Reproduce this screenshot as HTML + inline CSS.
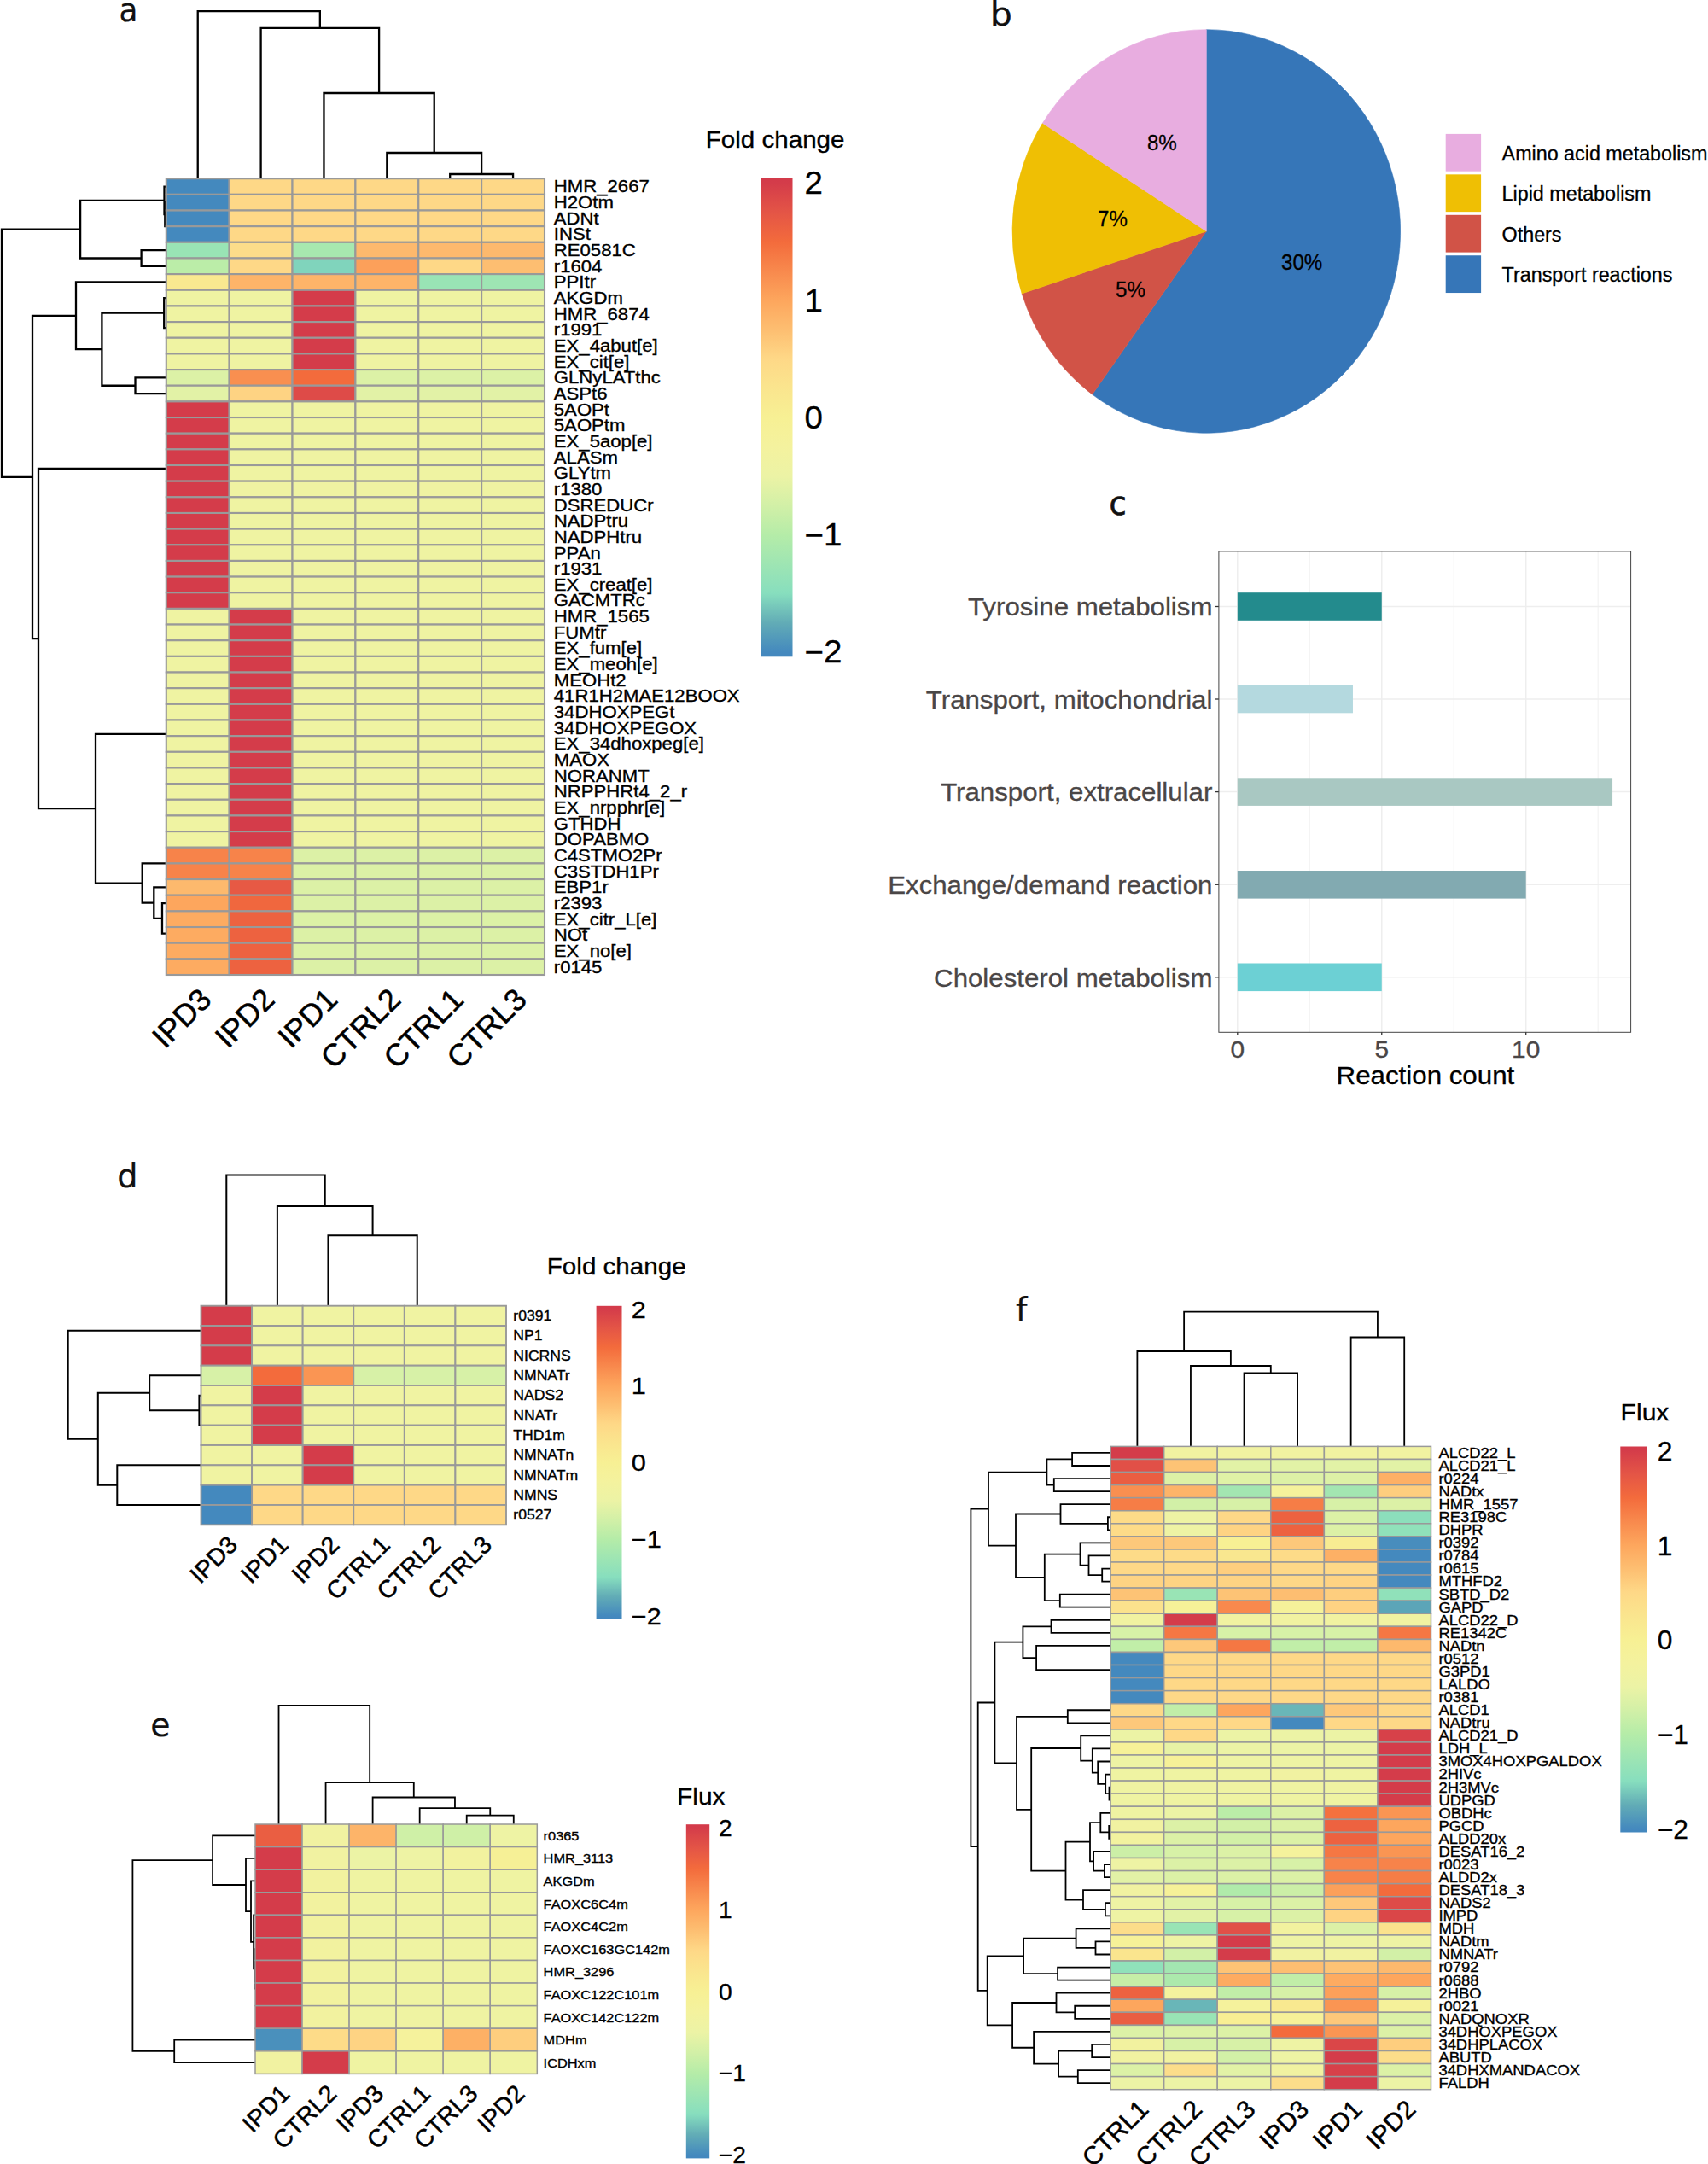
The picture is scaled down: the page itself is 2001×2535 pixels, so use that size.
<!DOCTYPE html>
<html><head><meta charset="utf-8"><title>Figure</title>
<style>html,body{margin:0;padding:0;background:#fff}svg{display:block}</style>
</head><body>
<svg width="2001" height="2535" viewBox="0 0 2001 2535" font-family="'Liberation Sans',Arial,Helvetica,sans-serif">
<rect width="2001" height="2535" fill="#fff"/>
<text transform="translate(139.43,24.70) scale(0.8968,0.9693)" font-family="'DejaVu Sans',Verdana,sans-serif" font-size="40" fill="#111" stroke="#111" stroke-width="0.20">a</text>
<path d="M527.20 209.20L527.20 204.00M601.07 209.20L601.07 204.00M527.20 204.00L601.07 204.00M453.33 209.20L453.33 179.00M564.13 204.00L564.13 179.00M453.33 179.00L564.13 179.00M379.47 209.20L379.47 109.00M508.73 179.00L508.73 109.00M379.47 109.00L508.73 109.00M305.60 209.20L305.60 32.80M444.10 109.00L444.10 32.80M305.60 32.80L444.10 32.80M231.73 209.20L231.73 13.20M374.85 32.80L374.85 13.20M231.73 13.20L374.85 13.20" stroke="#000" stroke-width="2.30" fill="none" stroke-linecap="square"/>
<path d="M194.80 237.18L193.30 237.18M195.80 265.17L193.30 265.17M193.30 237.18L193.30 265.17M194.80 218.53L192.50 218.53M193.30 251.18L192.50 251.18M192.50 218.53L192.50 251.18M194.80 293.15L165.60 293.15M194.80 311.81L165.60 311.81M165.60 293.15L165.60 311.81M192.50 234.85L94.10 234.85M165.60 302.48L94.10 302.48M94.10 234.85L94.10 302.48M194.80 349.12L192.20 349.12M195.80 384.10L192.20 384.10M192.20 349.12L192.20 384.10M194.80 442.40L158.50 442.40M194.80 461.06L158.50 461.06M158.50 442.40L158.50 461.06M192.20 366.61L119.40 366.61M158.50 451.73L119.40 451.73M119.40 366.61L119.40 451.73M194.80 330.46L89.00 330.46M119.40 409.17L89.00 409.17M89.00 330.46L89.00 409.17M190.00 1058.20L190.00 1093.70M190.00 1058.20L194.80 1058.20M190.00 1093.70L194.80 1093.70M194.80 1039.39L180.30 1039.39M190.00 1075.95L180.30 1075.95M180.30 1039.39L180.30 1075.95M195.80 1011.41L166.70 1011.41M180.30 1057.67L166.70 1057.67M166.70 1011.41L166.70 1057.67M194.80 859.80L112.00 859.80M166.70 1034.54L112.00 1034.54M112.00 859.80L112.00 1034.54M194.80 549.00L45.00 549.00M112.00 947.17L45.00 947.17M45.00 549.00L45.00 947.17M89.00 369.82L38.00 369.82M45.00 748.08L38.00 748.08M38.00 369.82L38.00 748.08M94.10 268.67L2.00 268.67M38.00 558.95L2.00 558.95M2.00 268.67L2.00 558.95" stroke="#000" stroke-width="2.30" fill="none" stroke-linecap="square"/>
<g stroke="#999999" stroke-width="2.10">
<rect x="194.80" y="209.20" width="73.87" height="18.66" fill="#4489be"/>
<rect x="268.67" y="209.20" width="73.87" height="18.66" fill="#fed887"/>
<rect x="342.53" y="209.20" width="73.87" height="18.66" fill="#fed887"/>
<rect x="416.40" y="209.20" width="73.87" height="18.66" fill="#fed887"/>
<rect x="490.27" y="209.20" width="73.87" height="18.66" fill="#fed887"/>
<rect x="564.13" y="209.20" width="73.87" height="18.66" fill="#fed887"/>
<rect x="194.80" y="227.86" width="73.87" height="18.66" fill="#4489be"/>
<rect x="268.67" y="227.86" width="73.87" height="18.66" fill="#fed887"/>
<rect x="342.53" y="227.86" width="73.87" height="18.66" fill="#fed887"/>
<rect x="416.40" y="227.86" width="73.87" height="18.66" fill="#fed887"/>
<rect x="490.27" y="227.86" width="73.87" height="18.66" fill="#fed887"/>
<rect x="564.13" y="227.86" width="73.87" height="18.66" fill="#fed887"/>
<rect x="194.80" y="246.51" width="73.87" height="18.66" fill="#4489be"/>
<rect x="268.67" y="246.51" width="73.87" height="18.66" fill="#fed887"/>
<rect x="342.53" y="246.51" width="73.87" height="18.66" fill="#fed887"/>
<rect x="416.40" y="246.51" width="73.87" height="18.66" fill="#fed887"/>
<rect x="490.27" y="246.51" width="73.87" height="18.66" fill="#fed887"/>
<rect x="564.13" y="246.51" width="73.87" height="18.66" fill="#fed887"/>
<rect x="194.80" y="265.17" width="73.87" height="18.66" fill="#4489be"/>
<rect x="268.67" y="265.17" width="73.87" height="18.66" fill="#fed887"/>
<rect x="342.53" y="265.17" width="73.87" height="18.66" fill="#fed887"/>
<rect x="416.40" y="265.17" width="73.87" height="18.66" fill="#fed887"/>
<rect x="490.27" y="265.17" width="73.87" height="18.66" fill="#fed887"/>
<rect x="564.13" y="265.17" width="73.87" height="18.66" fill="#fed887"/>
<rect x="194.80" y="283.82" width="73.87" height="18.66" fill="#99e4b5"/>
<rect x="268.67" y="283.82" width="73.87" height="18.66" fill="#fcdd8a"/>
<rect x="342.53" y="283.82" width="73.87" height="18.66" fill="#a7e8af"/>
<rect x="416.40" y="283.82" width="73.87" height="18.66" fill="#fdb96d"/>
<rect x="490.27" y="283.82" width="73.87" height="18.66" fill="#fdb96d"/>
<rect x="564.13" y="283.82" width="73.87" height="18.66" fill="#fdb96d"/>
<rect x="194.80" y="302.48" width="73.87" height="18.66" fill="#bbeda8"/>
<rect x="268.67" y="302.48" width="73.87" height="18.66" fill="#fed887"/>
<rect x="342.53" y="302.48" width="73.87" height="18.66" fill="#80d4bc"/>
<rect x="416.40" y="302.48" width="73.87" height="18.66" fill="#fca05a"/>
<rect x="490.27" y="302.48" width="73.87" height="18.66" fill="#fed887"/>
<rect x="564.13" y="302.48" width="73.87" height="18.66" fill="#fdbe71"/>
<rect x="194.80" y="321.14" width="73.87" height="18.66" fill="#f9e990"/>
<rect x="268.67" y="321.14" width="73.87" height="18.66" fill="#fdb469"/>
<rect x="342.53" y="321.14" width="73.87" height="18.66" fill="#fdb469"/>
<rect x="416.40" y="321.14" width="73.87" height="18.66" fill="#fdb469"/>
<rect x="490.27" y="321.14" width="73.87" height="18.66" fill="#99e4b5"/>
<rect x="564.13" y="321.14" width="73.87" height="18.66" fill="#9ee5b3"/>
<rect x="194.80" y="339.79" width="73.87" height="18.66" fill="#eff3a2"/>
<rect x="268.67" y="339.79" width="73.87" height="18.66" fill="#eff3a2"/>
<rect x="342.53" y="339.79" width="73.87" height="18.66" fill="#d43c4a"/>
<rect x="416.40" y="339.79" width="73.87" height="18.66" fill="#eff3a2"/>
<rect x="490.27" y="339.79" width="73.87" height="18.66" fill="#eff3a2"/>
<rect x="564.13" y="339.79" width="73.87" height="18.66" fill="#eff3a2"/>
<rect x="194.80" y="358.45" width="73.87" height="18.66" fill="#eff3a2"/>
<rect x="268.67" y="358.45" width="73.87" height="18.66" fill="#eff3a2"/>
<rect x="342.53" y="358.45" width="73.87" height="18.66" fill="#d43c4a"/>
<rect x="416.40" y="358.45" width="73.87" height="18.66" fill="#eff3a2"/>
<rect x="490.27" y="358.45" width="73.87" height="18.66" fill="#eff3a2"/>
<rect x="564.13" y="358.45" width="73.87" height="18.66" fill="#eff3a2"/>
<rect x="194.80" y="377.10" width="73.87" height="18.66" fill="#eff3a2"/>
<rect x="268.67" y="377.10" width="73.87" height="18.66" fill="#eff3a2"/>
<rect x="342.53" y="377.10" width="73.87" height="18.66" fill="#d43c4a"/>
<rect x="416.40" y="377.10" width="73.87" height="18.66" fill="#eff3a2"/>
<rect x="490.27" y="377.10" width="73.87" height="18.66" fill="#eff3a2"/>
<rect x="564.13" y="377.10" width="73.87" height="18.66" fill="#eff3a2"/>
<rect x="194.80" y="395.76" width="73.87" height="18.66" fill="#eff3a2"/>
<rect x="268.67" y="395.76" width="73.87" height="18.66" fill="#eff3a2"/>
<rect x="342.53" y="395.76" width="73.87" height="18.66" fill="#d43c4a"/>
<rect x="416.40" y="395.76" width="73.87" height="18.66" fill="#eff3a2"/>
<rect x="490.27" y="395.76" width="73.87" height="18.66" fill="#eff3a2"/>
<rect x="564.13" y="395.76" width="73.87" height="18.66" fill="#eff3a2"/>
<rect x="194.80" y="414.42" width="73.87" height="18.66" fill="#eff3a2"/>
<rect x="268.67" y="414.42" width="73.87" height="18.66" fill="#eff3a2"/>
<rect x="342.53" y="414.42" width="73.87" height="18.66" fill="#d43c4a"/>
<rect x="416.40" y="414.42" width="73.87" height="18.66" fill="#eff3a2"/>
<rect x="490.27" y="414.42" width="73.87" height="18.66" fill="#eff3a2"/>
<rect x="564.13" y="414.42" width="73.87" height="18.66" fill="#eff3a2"/>
<rect x="194.80" y="433.07" width="73.87" height="18.66" fill="#dcf1a6"/>
<rect x="268.67" y="433.07" width="73.87" height="18.66" fill="#f98f50"/>
<rect x="342.53" y="433.07" width="73.87" height="18.66" fill="#f36b3c"/>
<rect x="416.40" y="433.07" width="73.87" height="18.66" fill="#dcf1a6"/>
<rect x="490.27" y="433.07" width="73.87" height="18.66" fill="#dcf1a6"/>
<rect x="564.13" y="433.07" width="73.87" height="18.66" fill="#dcf1a6"/>
<rect x="194.80" y="451.73" width="73.87" height="18.66" fill="#e2f2a6"/>
<rect x="268.67" y="451.73" width="73.87" height="18.66" fill="#fed383"/>
<rect x="342.53" y="451.73" width="73.87" height="18.66" fill="#de4b48"/>
<rect x="416.40" y="451.73" width="73.87" height="18.66" fill="#e2f2a6"/>
<rect x="490.27" y="451.73" width="73.87" height="18.66" fill="#e2f2a6"/>
<rect x="564.13" y="451.73" width="73.87" height="18.66" fill="#e2f2a6"/>
<rect x="194.80" y="470.38" width="73.87" height="18.66" fill="#d43c4a"/>
<rect x="268.67" y="470.38" width="73.87" height="18.66" fill="#eff3a2"/>
<rect x="342.53" y="470.38" width="73.87" height="18.66" fill="#eff3a2"/>
<rect x="416.40" y="470.38" width="73.87" height="18.66" fill="#eff3a2"/>
<rect x="490.27" y="470.38" width="73.87" height="18.66" fill="#eff3a2"/>
<rect x="564.13" y="470.38" width="73.87" height="18.66" fill="#eff3a2"/>
<rect x="194.80" y="489.04" width="73.87" height="18.66" fill="#d43c4a"/>
<rect x="268.67" y="489.04" width="73.87" height="18.66" fill="#eff3a2"/>
<rect x="342.53" y="489.04" width="73.87" height="18.66" fill="#eff3a2"/>
<rect x="416.40" y="489.04" width="73.87" height="18.66" fill="#eff3a2"/>
<rect x="490.27" y="489.04" width="73.87" height="18.66" fill="#eff3a2"/>
<rect x="564.13" y="489.04" width="73.87" height="18.66" fill="#eff3a2"/>
<rect x="194.80" y="507.70" width="73.87" height="18.66" fill="#d43c4a"/>
<rect x="268.67" y="507.70" width="73.87" height="18.66" fill="#eff3a2"/>
<rect x="342.53" y="507.70" width="73.87" height="18.66" fill="#eff3a2"/>
<rect x="416.40" y="507.70" width="73.87" height="18.66" fill="#eff3a2"/>
<rect x="490.27" y="507.70" width="73.87" height="18.66" fill="#eff3a2"/>
<rect x="564.13" y="507.70" width="73.87" height="18.66" fill="#eff3a2"/>
<rect x="194.80" y="526.35" width="73.87" height="18.66" fill="#d43c4a"/>
<rect x="268.67" y="526.35" width="73.87" height="18.66" fill="#eff3a2"/>
<rect x="342.53" y="526.35" width="73.87" height="18.66" fill="#eff3a2"/>
<rect x="416.40" y="526.35" width="73.87" height="18.66" fill="#eff3a2"/>
<rect x="490.27" y="526.35" width="73.87" height="18.66" fill="#eff3a2"/>
<rect x="564.13" y="526.35" width="73.87" height="18.66" fill="#eff3a2"/>
<rect x="194.80" y="545.01" width="73.87" height="18.66" fill="#d43c4a"/>
<rect x="268.67" y="545.01" width="73.87" height="18.66" fill="#eff3a2"/>
<rect x="342.53" y="545.01" width="73.87" height="18.66" fill="#eff3a2"/>
<rect x="416.40" y="545.01" width="73.87" height="18.66" fill="#eff3a2"/>
<rect x="490.27" y="545.01" width="73.87" height="18.66" fill="#eff3a2"/>
<rect x="564.13" y="545.01" width="73.87" height="18.66" fill="#eff3a2"/>
<rect x="194.80" y="563.66" width="73.87" height="18.66" fill="#d43c4a"/>
<rect x="268.67" y="563.66" width="73.87" height="18.66" fill="#eff3a2"/>
<rect x="342.53" y="563.66" width="73.87" height="18.66" fill="#eff3a2"/>
<rect x="416.40" y="563.66" width="73.87" height="18.66" fill="#eff3a2"/>
<rect x="490.27" y="563.66" width="73.87" height="18.66" fill="#eff3a2"/>
<rect x="564.13" y="563.66" width="73.87" height="18.66" fill="#eff3a2"/>
<rect x="194.80" y="582.32" width="73.87" height="18.66" fill="#d43c4a"/>
<rect x="268.67" y="582.32" width="73.87" height="18.66" fill="#eff3a2"/>
<rect x="342.53" y="582.32" width="73.87" height="18.66" fill="#eff3a2"/>
<rect x="416.40" y="582.32" width="73.87" height="18.66" fill="#eff3a2"/>
<rect x="490.27" y="582.32" width="73.87" height="18.66" fill="#eff3a2"/>
<rect x="564.13" y="582.32" width="73.87" height="18.66" fill="#eff3a2"/>
<rect x="194.80" y="600.98" width="73.87" height="18.66" fill="#d43c4a"/>
<rect x="268.67" y="600.98" width="73.87" height="18.66" fill="#eff3a2"/>
<rect x="342.53" y="600.98" width="73.87" height="18.66" fill="#eff3a2"/>
<rect x="416.40" y="600.98" width="73.87" height="18.66" fill="#eff3a2"/>
<rect x="490.27" y="600.98" width="73.87" height="18.66" fill="#eff3a2"/>
<rect x="564.13" y="600.98" width="73.87" height="18.66" fill="#eff3a2"/>
<rect x="194.80" y="619.63" width="73.87" height="18.66" fill="#d43c4a"/>
<rect x="268.67" y="619.63" width="73.87" height="18.66" fill="#eff3a2"/>
<rect x="342.53" y="619.63" width="73.87" height="18.66" fill="#eff3a2"/>
<rect x="416.40" y="619.63" width="73.87" height="18.66" fill="#eff3a2"/>
<rect x="490.27" y="619.63" width="73.87" height="18.66" fill="#eff3a2"/>
<rect x="564.13" y="619.63" width="73.87" height="18.66" fill="#eff3a2"/>
<rect x="194.80" y="638.29" width="73.87" height="18.66" fill="#d43c4a"/>
<rect x="268.67" y="638.29" width="73.87" height="18.66" fill="#eff3a2"/>
<rect x="342.53" y="638.29" width="73.87" height="18.66" fill="#eff3a2"/>
<rect x="416.40" y="638.29" width="73.87" height="18.66" fill="#eff3a2"/>
<rect x="490.27" y="638.29" width="73.87" height="18.66" fill="#eff3a2"/>
<rect x="564.13" y="638.29" width="73.87" height="18.66" fill="#eff3a2"/>
<rect x="194.80" y="656.94" width="73.87" height="18.66" fill="#d43c4a"/>
<rect x="268.67" y="656.94" width="73.87" height="18.66" fill="#eff3a2"/>
<rect x="342.53" y="656.94" width="73.87" height="18.66" fill="#eff3a2"/>
<rect x="416.40" y="656.94" width="73.87" height="18.66" fill="#eff3a2"/>
<rect x="490.27" y="656.94" width="73.87" height="18.66" fill="#eff3a2"/>
<rect x="564.13" y="656.94" width="73.87" height="18.66" fill="#eff3a2"/>
<rect x="194.80" y="675.60" width="73.87" height="18.66" fill="#d43c4a"/>
<rect x="268.67" y="675.60" width="73.87" height="18.66" fill="#eff3a2"/>
<rect x="342.53" y="675.60" width="73.87" height="18.66" fill="#eff3a2"/>
<rect x="416.40" y="675.60" width="73.87" height="18.66" fill="#eff3a2"/>
<rect x="490.27" y="675.60" width="73.87" height="18.66" fill="#eff3a2"/>
<rect x="564.13" y="675.60" width="73.87" height="18.66" fill="#eff3a2"/>
<rect x="194.80" y="694.26" width="73.87" height="18.66" fill="#d43c4a"/>
<rect x="268.67" y="694.26" width="73.87" height="18.66" fill="#eff3a2"/>
<rect x="342.53" y="694.26" width="73.87" height="18.66" fill="#eff3a2"/>
<rect x="416.40" y="694.26" width="73.87" height="18.66" fill="#eff3a2"/>
<rect x="490.27" y="694.26" width="73.87" height="18.66" fill="#eff3a2"/>
<rect x="564.13" y="694.26" width="73.87" height="18.66" fill="#eff3a2"/>
<rect x="194.80" y="712.91" width="73.87" height="18.66" fill="#eff3a2"/>
<rect x="268.67" y="712.91" width="73.87" height="18.66" fill="#d43c4a"/>
<rect x="342.53" y="712.91" width="73.87" height="18.66" fill="#eff3a2"/>
<rect x="416.40" y="712.91" width="73.87" height="18.66" fill="#eff3a2"/>
<rect x="490.27" y="712.91" width="73.87" height="18.66" fill="#eff3a2"/>
<rect x="564.13" y="712.91" width="73.87" height="18.66" fill="#eff3a2"/>
<rect x="194.80" y="731.57" width="73.87" height="18.66" fill="#eff3a2"/>
<rect x="268.67" y="731.57" width="73.87" height="18.66" fill="#d43c4a"/>
<rect x="342.53" y="731.57" width="73.87" height="18.66" fill="#eff3a2"/>
<rect x="416.40" y="731.57" width="73.87" height="18.66" fill="#eff3a2"/>
<rect x="490.27" y="731.57" width="73.87" height="18.66" fill="#eff3a2"/>
<rect x="564.13" y="731.57" width="73.87" height="18.66" fill="#eff3a2"/>
<rect x="194.80" y="750.22" width="73.87" height="18.66" fill="#eff3a2"/>
<rect x="268.67" y="750.22" width="73.87" height="18.66" fill="#d43c4a"/>
<rect x="342.53" y="750.22" width="73.87" height="18.66" fill="#eff3a2"/>
<rect x="416.40" y="750.22" width="73.87" height="18.66" fill="#eff3a2"/>
<rect x="490.27" y="750.22" width="73.87" height="18.66" fill="#eff3a2"/>
<rect x="564.13" y="750.22" width="73.87" height="18.66" fill="#eff3a2"/>
<rect x="194.80" y="768.88" width="73.87" height="18.66" fill="#eff3a2"/>
<rect x="268.67" y="768.88" width="73.87" height="18.66" fill="#d43c4a"/>
<rect x="342.53" y="768.88" width="73.87" height="18.66" fill="#eff3a2"/>
<rect x="416.40" y="768.88" width="73.87" height="18.66" fill="#eff3a2"/>
<rect x="490.27" y="768.88" width="73.87" height="18.66" fill="#eff3a2"/>
<rect x="564.13" y="768.88" width="73.87" height="18.66" fill="#eff3a2"/>
<rect x="194.80" y="787.54" width="73.87" height="18.66" fill="#eff3a2"/>
<rect x="268.67" y="787.54" width="73.87" height="18.66" fill="#d43c4a"/>
<rect x="342.53" y="787.54" width="73.87" height="18.66" fill="#eff3a2"/>
<rect x="416.40" y="787.54" width="73.87" height="18.66" fill="#eff3a2"/>
<rect x="490.27" y="787.54" width="73.87" height="18.66" fill="#eff3a2"/>
<rect x="564.13" y="787.54" width="73.87" height="18.66" fill="#eff3a2"/>
<rect x="194.80" y="806.19" width="73.87" height="18.66" fill="#eff3a2"/>
<rect x="268.67" y="806.19" width="73.87" height="18.66" fill="#d43c4a"/>
<rect x="342.53" y="806.19" width="73.87" height="18.66" fill="#eff3a2"/>
<rect x="416.40" y="806.19" width="73.87" height="18.66" fill="#eff3a2"/>
<rect x="490.27" y="806.19" width="73.87" height="18.66" fill="#eff3a2"/>
<rect x="564.13" y="806.19" width="73.87" height="18.66" fill="#eff3a2"/>
<rect x="194.80" y="824.85" width="73.87" height="18.66" fill="#eff3a2"/>
<rect x="268.67" y="824.85" width="73.87" height="18.66" fill="#d43c4a"/>
<rect x="342.53" y="824.85" width="73.87" height="18.66" fill="#eff3a2"/>
<rect x="416.40" y="824.85" width="73.87" height="18.66" fill="#eff3a2"/>
<rect x="490.27" y="824.85" width="73.87" height="18.66" fill="#eff3a2"/>
<rect x="564.13" y="824.85" width="73.87" height="18.66" fill="#eff3a2"/>
<rect x="194.80" y="843.50" width="73.87" height="18.66" fill="#eff3a2"/>
<rect x="268.67" y="843.50" width="73.87" height="18.66" fill="#d43c4a"/>
<rect x="342.53" y="843.50" width="73.87" height="18.66" fill="#eff3a2"/>
<rect x="416.40" y="843.50" width="73.87" height="18.66" fill="#eff3a2"/>
<rect x="490.27" y="843.50" width="73.87" height="18.66" fill="#eff3a2"/>
<rect x="564.13" y="843.50" width="73.87" height="18.66" fill="#eff3a2"/>
<rect x="194.80" y="862.16" width="73.87" height="18.66" fill="#eff3a2"/>
<rect x="268.67" y="862.16" width="73.87" height="18.66" fill="#d43c4a"/>
<rect x="342.53" y="862.16" width="73.87" height="18.66" fill="#eff3a2"/>
<rect x="416.40" y="862.16" width="73.87" height="18.66" fill="#eff3a2"/>
<rect x="490.27" y="862.16" width="73.87" height="18.66" fill="#eff3a2"/>
<rect x="564.13" y="862.16" width="73.87" height="18.66" fill="#eff3a2"/>
<rect x="194.80" y="880.82" width="73.87" height="18.66" fill="#eff3a2"/>
<rect x="268.67" y="880.82" width="73.87" height="18.66" fill="#d43c4a"/>
<rect x="342.53" y="880.82" width="73.87" height="18.66" fill="#eff3a2"/>
<rect x="416.40" y="880.82" width="73.87" height="18.66" fill="#eff3a2"/>
<rect x="490.27" y="880.82" width="73.87" height="18.66" fill="#eff3a2"/>
<rect x="564.13" y="880.82" width="73.87" height="18.66" fill="#eff3a2"/>
<rect x="194.80" y="899.47" width="73.87" height="18.66" fill="#eff3a2"/>
<rect x="268.67" y="899.47" width="73.87" height="18.66" fill="#d43c4a"/>
<rect x="342.53" y="899.47" width="73.87" height="18.66" fill="#eff3a2"/>
<rect x="416.40" y="899.47" width="73.87" height="18.66" fill="#eff3a2"/>
<rect x="490.27" y="899.47" width="73.87" height="18.66" fill="#eff3a2"/>
<rect x="564.13" y="899.47" width="73.87" height="18.66" fill="#eff3a2"/>
<rect x="194.80" y="918.13" width="73.87" height="18.66" fill="#eff3a2"/>
<rect x="268.67" y="918.13" width="73.87" height="18.66" fill="#d43c4a"/>
<rect x="342.53" y="918.13" width="73.87" height="18.66" fill="#eff3a2"/>
<rect x="416.40" y="918.13" width="73.87" height="18.66" fill="#eff3a2"/>
<rect x="490.27" y="918.13" width="73.87" height="18.66" fill="#eff3a2"/>
<rect x="564.13" y="918.13" width="73.87" height="18.66" fill="#eff3a2"/>
<rect x="194.80" y="936.78" width="73.87" height="18.66" fill="#eff3a2"/>
<rect x="268.67" y="936.78" width="73.87" height="18.66" fill="#d43c4a"/>
<rect x="342.53" y="936.78" width="73.87" height="18.66" fill="#eff3a2"/>
<rect x="416.40" y="936.78" width="73.87" height="18.66" fill="#eff3a2"/>
<rect x="490.27" y="936.78" width="73.87" height="18.66" fill="#eff3a2"/>
<rect x="564.13" y="936.78" width="73.87" height="18.66" fill="#eff3a2"/>
<rect x="194.80" y="955.44" width="73.87" height="18.66" fill="#eff3a2"/>
<rect x="268.67" y="955.44" width="73.87" height="18.66" fill="#d43c4a"/>
<rect x="342.53" y="955.44" width="73.87" height="18.66" fill="#eff3a2"/>
<rect x="416.40" y="955.44" width="73.87" height="18.66" fill="#eff3a2"/>
<rect x="490.27" y="955.44" width="73.87" height="18.66" fill="#eff3a2"/>
<rect x="564.13" y="955.44" width="73.87" height="18.66" fill="#eff3a2"/>
<rect x="194.80" y="974.10" width="73.87" height="18.66" fill="#eff3a2"/>
<rect x="268.67" y="974.10" width="73.87" height="18.66" fill="#d43c4a"/>
<rect x="342.53" y="974.10" width="73.87" height="18.66" fill="#eff3a2"/>
<rect x="416.40" y="974.10" width="73.87" height="18.66" fill="#eff3a2"/>
<rect x="490.27" y="974.10" width="73.87" height="18.66" fill="#eff3a2"/>
<rect x="564.13" y="974.10" width="73.87" height="18.66" fill="#eff3a2"/>
<rect x="194.80" y="992.75" width="73.87" height="18.66" fill="#f7834a"/>
<rect x="268.67" y="992.75" width="73.87" height="18.66" fill="#f7834a"/>
<rect x="342.53" y="992.75" width="73.87" height="18.66" fill="#dcf1a6"/>
<rect x="416.40" y="992.75" width="73.87" height="18.66" fill="#dcf1a6"/>
<rect x="490.27" y="992.75" width="73.87" height="18.66" fill="#dcf1a6"/>
<rect x="564.13" y="992.75" width="73.87" height="18.66" fill="#dcf1a6"/>
<rect x="194.80" y="1011.41" width="73.87" height="18.66" fill="#f7834a"/>
<rect x="268.67" y="1011.41" width="73.87" height="18.66" fill="#f7834a"/>
<rect x="342.53" y="1011.41" width="73.87" height="18.66" fill="#dcf1a6"/>
<rect x="416.40" y="1011.41" width="73.87" height="18.66" fill="#dcf1a6"/>
<rect x="490.27" y="1011.41" width="73.87" height="18.66" fill="#dcf1a6"/>
<rect x="564.13" y="1011.41" width="73.87" height="18.66" fill="#dcf1a6"/>
<rect x="194.80" y="1030.06" width="73.87" height="18.66" fill="#fdb96d"/>
<rect x="268.67" y="1030.06" width="73.87" height="18.66" fill="#e75944"/>
<rect x="342.53" y="1030.06" width="73.87" height="18.66" fill="#dcf1a6"/>
<rect x="416.40" y="1030.06" width="73.87" height="18.66" fill="#dcf1a6"/>
<rect x="490.27" y="1030.06" width="73.87" height="18.66" fill="#dcf1a6"/>
<rect x="564.13" y="1030.06" width="73.87" height="18.66" fill="#dcf1a6"/>
<rect x="194.80" y="1048.72" width="73.87" height="18.66" fill="#fda65d"/>
<rect x="268.67" y="1048.72" width="73.87" height="18.66" fill="#f0673e"/>
<rect x="342.53" y="1048.72" width="73.87" height="18.66" fill="#dcf1a6"/>
<rect x="416.40" y="1048.72" width="73.87" height="18.66" fill="#dcf1a6"/>
<rect x="490.27" y="1048.72" width="73.87" height="18.66" fill="#dcf1a6"/>
<rect x="564.13" y="1048.72" width="73.87" height="18.66" fill="#dcf1a6"/>
<rect x="194.80" y="1067.38" width="73.87" height="18.66" fill="#fdab61"/>
<rect x="268.67" y="1067.38" width="73.87" height="18.66" fill="#ed6240"/>
<rect x="342.53" y="1067.38" width="73.87" height="18.66" fill="#dcf1a6"/>
<rect x="416.40" y="1067.38" width="73.87" height="18.66" fill="#dcf1a6"/>
<rect x="490.27" y="1067.38" width="73.87" height="18.66" fill="#dcf1a6"/>
<rect x="564.13" y="1067.38" width="73.87" height="18.66" fill="#dcf1a6"/>
<rect x="194.80" y="1086.03" width="73.87" height="18.66" fill="#fdab61"/>
<rect x="268.67" y="1086.03" width="73.87" height="18.66" fill="#ed6240"/>
<rect x="342.53" y="1086.03" width="73.87" height="18.66" fill="#dcf1a6"/>
<rect x="416.40" y="1086.03" width="73.87" height="18.66" fill="#dcf1a6"/>
<rect x="490.27" y="1086.03" width="73.87" height="18.66" fill="#dcf1a6"/>
<rect x="564.13" y="1086.03" width="73.87" height="18.66" fill="#dcf1a6"/>
<rect x="194.80" y="1104.69" width="73.87" height="18.66" fill="#fdab61"/>
<rect x="268.67" y="1104.69" width="73.87" height="18.66" fill="#ed6240"/>
<rect x="342.53" y="1104.69" width="73.87" height="18.66" fill="#dcf1a6"/>
<rect x="416.40" y="1104.69" width="73.87" height="18.66" fill="#dcf1a6"/>
<rect x="490.27" y="1104.69" width="73.87" height="18.66" fill="#dcf1a6"/>
<rect x="564.13" y="1104.69" width="73.87" height="18.66" fill="#dcf1a6"/>
<rect x="194.80" y="1123.34" width="73.87" height="18.66" fill="#fdab61"/>
<rect x="268.67" y="1123.34" width="73.87" height="18.66" fill="#ed6240"/>
<rect x="342.53" y="1123.34" width="73.87" height="18.66" fill="#dcf1a6"/>
<rect x="416.40" y="1123.34" width="73.87" height="18.66" fill="#dcf1a6"/>
<rect x="490.27" y="1123.34" width="73.87" height="18.66" fill="#dcf1a6"/>
<rect x="564.13" y="1123.34" width="73.87" height="18.66" fill="#dcf1a6"/>
</g>
<text transform="translate(648.80,225.43) scale(1.1130,1)" font-size="19.90" text-anchor="start" fill="#000" stroke="#000" stroke-width="0.35">HMR_2667</text>
<text transform="translate(648.80,244.08) scale(1.1130,1)" font-size="19.90" text-anchor="start" fill="#000" stroke="#000" stroke-width="0.35">H2Otm</text>
<text transform="translate(648.80,262.74) scale(1.1130,1)" font-size="19.90" text-anchor="start" fill="#000" stroke="#000" stroke-width="0.35">ADNt</text>
<text transform="translate(648.80,281.40) scale(1.1130,1)" font-size="19.90" text-anchor="start" fill="#000" stroke="#000" stroke-width="0.35">INSt</text>
<text transform="translate(648.80,300.05) scale(1.1130,1)" font-size="19.90" text-anchor="start" fill="#000" stroke="#000" stroke-width="0.35">RE0581C</text>
<text transform="translate(648.80,318.71) scale(1.1130,1)" font-size="19.90" text-anchor="start" fill="#000" stroke="#000" stroke-width="0.35">r1604</text>
<text transform="translate(648.80,337.36) scale(1.1130,1)" font-size="19.90" text-anchor="start" fill="#000" stroke="#000" stroke-width="0.35">PPItr</text>
<text transform="translate(648.80,356.02) scale(1.1130,1)" font-size="19.90" text-anchor="start" fill="#000" stroke="#000" stroke-width="0.35">AKGDm</text>
<text transform="translate(648.80,374.68) scale(1.1130,1)" font-size="19.90" text-anchor="start" fill="#000" stroke="#000" stroke-width="0.35">HMR_6874</text>
<text transform="translate(648.80,393.33) scale(1.1130,1)" font-size="19.90" text-anchor="start" fill="#000" stroke="#000" stroke-width="0.35">r1991</text>
<text transform="translate(648.80,411.99) scale(1.1130,1)" font-size="19.90" text-anchor="start" fill="#000" stroke="#000" stroke-width="0.35">EX_4abut[e]</text>
<text transform="translate(648.80,430.64) scale(1.1130,1)" font-size="19.90" text-anchor="start" fill="#000" stroke="#000" stroke-width="0.35">EX_cit[e]</text>
<text transform="translate(648.80,449.30) scale(1.1130,1)" font-size="19.90" text-anchor="start" fill="#000" stroke="#000" stroke-width="0.35">GLNyLATthc</text>
<text transform="translate(648.80,467.96) scale(1.1130,1)" font-size="19.90" text-anchor="start" fill="#000" stroke="#000" stroke-width="0.35">ASPt6</text>
<text transform="translate(648.80,486.61) scale(1.1130,1)" font-size="19.90" text-anchor="start" fill="#000" stroke="#000" stroke-width="0.35">5AOPt</text>
<text transform="translate(648.80,505.27) scale(1.1130,1)" font-size="19.90" text-anchor="start" fill="#000" stroke="#000" stroke-width="0.35">5AOPtm</text>
<text transform="translate(648.80,523.92) scale(1.1130,1)" font-size="19.90" text-anchor="start" fill="#000" stroke="#000" stroke-width="0.35">EX_5aop[e]</text>
<text transform="translate(648.80,542.58) scale(1.1130,1)" font-size="19.90" text-anchor="start" fill="#000" stroke="#000" stroke-width="0.35">ALASm</text>
<text transform="translate(648.80,561.24) scale(1.1130,1)" font-size="19.90" text-anchor="start" fill="#000" stroke="#000" stroke-width="0.35">GLYtm</text>
<text transform="translate(648.80,579.89) scale(1.1130,1)" font-size="19.90" text-anchor="start" fill="#000" stroke="#000" stroke-width="0.35">r1380</text>
<text transform="translate(648.80,598.55) scale(1.1130,1)" font-size="19.90" text-anchor="start" fill="#000" stroke="#000" stroke-width="0.35">DSREDUCr</text>
<text transform="translate(648.80,617.20) scale(1.1130,1)" font-size="19.90" text-anchor="start" fill="#000" stroke="#000" stroke-width="0.35">NADPtru</text>
<text transform="translate(648.80,635.86) scale(1.1130,1)" font-size="19.90" text-anchor="start" fill="#000" stroke="#000" stroke-width="0.35">NADPHtru</text>
<text transform="translate(648.80,654.52) scale(1.1130,1)" font-size="19.90" text-anchor="start" fill="#000" stroke="#000" stroke-width="0.35">PPAn</text>
<text transform="translate(648.80,673.17) scale(1.1130,1)" font-size="19.90" text-anchor="start" fill="#000" stroke="#000" stroke-width="0.35">r1931</text>
<text transform="translate(648.80,691.83) scale(1.1130,1)" font-size="19.90" text-anchor="start" fill="#000" stroke="#000" stroke-width="0.35">EX_creat[e]</text>
<text transform="translate(648.80,710.48) scale(1.1130,1)" font-size="19.90" text-anchor="start" fill="#000" stroke="#000" stroke-width="0.35">GACMTRc</text>
<text transform="translate(648.80,729.14) scale(1.1130,1)" font-size="19.90" text-anchor="start" fill="#000" stroke="#000" stroke-width="0.35">HMR_1565</text>
<text transform="translate(648.80,747.80) scale(1.1130,1)" font-size="19.90" text-anchor="start" fill="#000" stroke="#000" stroke-width="0.35">FUMtr</text>
<text transform="translate(648.80,766.45) scale(1.1130,1)" font-size="19.90" text-anchor="start" fill="#000" stroke="#000" stroke-width="0.35">EX_fum[e]</text>
<text transform="translate(648.80,785.11) scale(1.1130,1)" font-size="19.90" text-anchor="start" fill="#000" stroke="#000" stroke-width="0.35">EX_meoh[e]</text>
<text transform="translate(648.80,803.76) scale(1.1130,1)" font-size="19.90" text-anchor="start" fill="#000" stroke="#000" stroke-width="0.35">MEOHt2</text>
<text transform="translate(648.80,822.42) scale(1.1130,1)" font-size="19.90" text-anchor="start" fill="#000" stroke="#000" stroke-width="0.35">41R1H2MAE12BOOX</text>
<text transform="translate(648.80,841.08) scale(1.1130,1)" font-size="19.90" text-anchor="start" fill="#000" stroke="#000" stroke-width="0.35">34DHOXPEGt</text>
<text transform="translate(648.80,859.73) scale(1.1130,1)" font-size="19.90" text-anchor="start" fill="#000" stroke="#000" stroke-width="0.35">34DHOXPEGOX</text>
<text transform="translate(648.80,878.39) scale(1.1130,1)" font-size="19.90" text-anchor="start" fill="#000" stroke="#000" stroke-width="0.35">EX_34dhoxpeg[e]</text>
<text transform="translate(648.80,897.04) scale(1.1130,1)" font-size="19.90" text-anchor="start" fill="#000" stroke="#000" stroke-width="0.35">MAOX</text>
<text transform="translate(648.80,915.70) scale(1.1130,1)" font-size="19.90" text-anchor="start" fill="#000" stroke="#000" stroke-width="0.35">NORANMT</text>
<text transform="translate(648.80,934.36) scale(1.1130,1)" font-size="19.90" text-anchor="start" fill="#000" stroke="#000" stroke-width="0.35">NRPPHRt4_2_r</text>
<text transform="translate(648.80,953.01) scale(1.1130,1)" font-size="19.90" text-anchor="start" fill="#000" stroke="#000" stroke-width="0.35">EX_nrpphr[e]</text>
<text transform="translate(648.80,971.67) scale(1.1130,1)" font-size="19.90" text-anchor="start" fill="#000" stroke="#000" stroke-width="0.35">GTHDH</text>
<text transform="translate(648.80,990.32) scale(1.1130,1)" font-size="19.90" text-anchor="start" fill="#000" stroke="#000" stroke-width="0.35">DOPABMO</text>
<text transform="translate(648.80,1008.98) scale(1.1130,1)" font-size="19.90" text-anchor="start" fill="#000" stroke="#000" stroke-width="0.35">C4STMO2Pr</text>
<text transform="translate(648.80,1027.64) scale(1.1130,1)" font-size="19.90" text-anchor="start" fill="#000" stroke="#000" stroke-width="0.35">C3STDH1Pr</text>
<text transform="translate(648.80,1046.29) scale(1.1130,1)" font-size="19.90" text-anchor="start" fill="#000" stroke="#000" stroke-width="0.35">EBP1r</text>
<text transform="translate(648.80,1064.95) scale(1.1130,1)" font-size="19.90" text-anchor="start" fill="#000" stroke="#000" stroke-width="0.35">r2393</text>
<text transform="translate(648.80,1083.60) scale(1.1130,1)" font-size="19.90" text-anchor="start" fill="#000" stroke="#000" stroke-width="0.35">EX_citr_L[e]</text>
<text transform="translate(648.80,1102.26) scale(1.1130,1)" font-size="19.90" text-anchor="start" fill="#000" stroke="#000" stroke-width="0.35">NOt</text>
<text transform="translate(648.80,1120.92) scale(1.1130,1)" font-size="19.90" text-anchor="start" fill="#000" stroke="#000" stroke-width="0.35">EX_no[e]</text>
<text transform="translate(648.80,1139.57) scale(1.1130,1)" font-size="19.90" text-anchor="start" fill="#000" stroke="#000" stroke-width="0.35">r0145</text>
<text transform="translate(249.73,1173.00) rotate(-45.00)" font-size="36.00" text-anchor="end" fill="#000" stroke="#000" stroke-width="0.5">IPD3</text>
<text transform="translate(323.60,1173.00) rotate(-45.00)" font-size="36.00" text-anchor="end" fill="#000" stroke="#000" stroke-width="0.5">IPD2</text>
<text transform="translate(397.47,1173.00) rotate(-45.00)" font-size="36.00" text-anchor="end" fill="#000" stroke="#000" stroke-width="0.5">IPD1</text>
<text transform="translate(471.33,1173.00) rotate(-45.00)" font-size="36.00" text-anchor="end" fill="#000" stroke="#000" stroke-width="0.5">CTRL2</text>
<text transform="translate(545.20,1173.00) rotate(-45.00)" font-size="36.00" text-anchor="end" fill="#000" stroke="#000" stroke-width="0.5">CTRL1</text>
<text transform="translate(619.07,1173.00) rotate(-45.00)" font-size="36.00" text-anchor="end" fill="#000" stroke="#000" stroke-width="0.5">CTRL3</text>
<defs><linearGradient id="gA" x1="0" y1="0" x2="0" y2="1">
<stop offset="0.0000" stop-color="#d33a4a"/>
<stop offset="0.0098" stop-color="#d43c4a"/>
<stop offset="0.0711" stop-color="#e45546"/>
<stop offset="0.1324" stop-color="#f36b3c"/>
<stop offset="0.1936" stop-color="#f8894d"/>
<stop offset="0.2549" stop-color="#fda65d"/>
<stop offset="0.3162" stop-color="#fdbe71"/>
<stop offset="0.3775" stop-color="#fed887"/>
<stop offset="0.4387" stop-color="#fae58e"/>
<stop offset="0.5000" stop-color="#f7f094"/>
<stop offset="0.5613" stop-color="#f4f29e"/>
<stop offset="0.6225" stop-color="#ecf3a5"/>
<stop offset="0.6838" stop-color="#d2f0a7"/>
<stop offset="0.7451" stop-color="#b5eca8"/>
<stop offset="0.8064" stop-color="#9ee5b3"/>
<stop offset="0.8676" stop-color="#87debe"/>
<stop offset="0.9289" stop-color="#62acb6"/>
<stop offset="0.9902" stop-color="#4489be"/>
<stop offset="1.0000" stop-color="#4387be"/>
</linearGradient></defs>
<rect x="891.10" y="209.00" width="37.40" height="560.30" fill="url(#gA)"/>
<text transform="translate(942.60,227.49) scale(1.0700,1)" font-size="36.00" text-anchor="start" fill="#000" stroke="#000" stroke-width="0.3">2</text>
<text transform="translate(942.60,364.79) scale(1.0700,1)" font-size="36.00" text-anchor="start" fill="#000" stroke="#000" stroke-width="0.3">1</text>
<text transform="translate(942.60,502.09) scale(1.0700,1)" font-size="36.00" text-anchor="start" fill="#000" stroke="#000" stroke-width="0.3">0</text>
<text transform="translate(942.60,639.19) scale(1.0700,1)" font-size="36.00" text-anchor="start" fill="#000" stroke="#000" stroke-width="0.3">−1</text>
<text transform="translate(942.60,776.09) scale(1.0700,1)" font-size="36.00" text-anchor="start" fill="#000" stroke="#000" stroke-width="0.3">−2</text>
<text transform="translate(826.70,172.50) scale(1.1000,1)" font-size="26.90" text-anchor="start" fill="#000" stroke="#000" stroke-width="0.3">Fold change</text>
<text transform="translate(1159.86,30.30) scale(1.0317,0.9871)" font-family="'DejaVu Sans',Verdana,sans-serif" font-size="40" fill="#111" stroke="#111" stroke-width="0.20">b</text>
<path d="M1413.30 270.95L1413.30 34.65A227.30 236.30 0 1 1 1279.70 462.12Z" fill="#3676b8" stroke="#3676b8" stroke-width="0.6"/>
<path d="M1413.30 270.95L1279.70 462.12A227.30 236.30 0 0 1 1197.12 343.97Z" fill="#d15347" stroke="#d15347" stroke-width="0.6"/>
<path d="M1413.30 270.95L1197.12 343.97A227.30 236.30 0 0 1 1221.38 144.33Z" fill="#efbf04" stroke="#efbf04" stroke-width="0.6"/>
<path d="M1413.30 270.95L1221.38 144.33A227.30 236.30 0 0 1 1413.30 34.65Z" fill="#e8ade0" stroke="#e8ade0" stroke-width="0.6"/>
<text transform="translate(1361.30,175.69) scale(0.9100,1)" font-size="26.50" text-anchor="middle" fill="#000" stroke="#000" stroke-width="0.3">8%</text>
<text transform="translate(1303.40,264.69) scale(0.9100,1)" font-size="26.50" text-anchor="middle" fill="#000" stroke="#000" stroke-width="0.3">7%</text>
<text transform="translate(1324.50,348.49) scale(0.9100,1)" font-size="26.50" text-anchor="middle" fill="#000" stroke="#000" stroke-width="0.3">5%</text>
<text transform="translate(1525.10,315.89) scale(0.9100,1)" font-size="26.50" text-anchor="middle" fill="#000" stroke="#000" stroke-width="0.3">30%</text>
<rect x="1693.7" y="156.90" width="41.4" height="43.8" fill="#e8ade0"/>
<text transform="translate(1759.60,187.90)" font-size="23.30" text-anchor="start" fill="#000" stroke="#000" stroke-width="0.3">Amino acid metabolism</text>
<rect x="1693.7" y="204.35" width="41.4" height="43.8" fill="#efbf04"/>
<text transform="translate(1759.60,235.25)" font-size="23.30" text-anchor="start" fill="#000" stroke="#000" stroke-width="0.3">Lipid metabolism</text>
<rect x="1693.7" y="251.80" width="41.4" height="43.8" fill="#d15347"/>
<text transform="translate(1759.60,282.60)" font-size="23.30" text-anchor="start" fill="#000" stroke="#000" stroke-width="0.3">Others</text>
<rect x="1693.7" y="299.25" width="41.4" height="43.8" fill="#3676b8"/>
<text transform="translate(1759.60,329.95)" font-size="23.30" text-anchor="start" fill="#000" stroke="#000" stroke-width="0.3">Transport reactions</text>
<text transform="translate(1299.38,602.50) scale(0.9193,0.9562)" font-family="'DejaVu Sans',Verdana,sans-serif" font-size="40" fill="#111" stroke="#111" stroke-width="0.70">c</text>
<g stroke="#eeeeee" fill="none">
<path d="M1534.27 645.90V1209.30" stroke-width="0.8"/>
<path d="M1703.22 645.90V1209.30" stroke-width="0.8"/>
<path d="M1872.17 645.90V1209.30" stroke-width="0.8"/>
<path d="M1449.80 645.90V1209.30" stroke-width="1.5"/>
<path d="M1618.75 645.90V1209.30" stroke-width="1.5"/>
<path d="M1787.70 645.90V1209.30" stroke-width="1.5"/>
<path d="M1427.90 710.50H1910.60" stroke-width="1.5"/>
<path d="M1427.90 819.00H1910.60" stroke-width="1.5"/>
<path d="M1427.90 927.60H1910.60" stroke-width="1.5"/>
<path d="M1427.90 1036.30H1910.60" stroke-width="1.5"/>
<path d="M1427.90 1144.80H1910.60" stroke-width="1.5"/>
</g>
<rect x="1449.80" y="694.20" width="168.95" height="32.6" fill="#238b8d"/>
<text transform="translate(1420.40,721.30) scale(1.0850,1)" font-size="28.80" text-anchor="end" fill="#4a4646" stroke="#4a4646" stroke-width="0.3">Tyrosine metabolism</text>
<path d="M1424 710.50H1427.90" stroke="#333" stroke-width="1.3"/>
<rect x="1449.80" y="802.70" width="135.16" height="32.6" fill="#b4d9df"/>
<text transform="translate(1420.40,829.80) scale(1.0850,1)" font-size="28.80" text-anchor="end" fill="#4a4646" stroke="#4a4646" stroke-width="0.3">Transport, mitochondrial</text>
<path d="M1424 819.00H1427.90" stroke="#333" stroke-width="1.3"/>
<rect x="1449.80" y="911.30" width="439.27" height="32.6" fill="#a9c8c2"/>
<text transform="translate(1420.40,938.40) scale(1.0850,1)" font-size="28.80" text-anchor="end" fill="#4a4646" stroke="#4a4646" stroke-width="0.3">Transport, extracellular</text>
<path d="M1424 927.60H1427.90" stroke="#333" stroke-width="1.3"/>
<rect x="1449.80" y="1020.00" width="337.90" height="32.6" fill="#82aab1"/>
<text transform="translate(1420.40,1047.10) scale(1.0850,1)" font-size="28.80" text-anchor="end" fill="#4a4646" stroke="#4a4646" stroke-width="0.3">Exchange/demand reaction</text>
<path d="M1424 1036.30H1427.90" stroke="#333" stroke-width="1.3"/>
<rect x="1449.80" y="1128.50" width="168.95" height="32.6" fill="#6cd0d4"/>
<text transform="translate(1420.40,1155.60) scale(1.0850,1)" font-size="28.80" text-anchor="end" fill="#4a4646" stroke="#4a4646" stroke-width="0.3">Cholesterol metabolism</text>
<path d="M1424 1144.80H1427.90" stroke="#333" stroke-width="1.3"/>
<rect x="1427.90" y="645.90" width="482.70" height="563.40" fill="none" stroke="#444" stroke-width="1.0"/>
<path d="M1449.80 1209.30V1213.10" stroke="#333" stroke-width="1.3"/>
<text transform="translate(1449.80,1238.60) scale(1.0850,1)" font-size="27.50" text-anchor="middle" fill="#4a4646" stroke="#4a4646" stroke-width="0.3">0</text>
<path d="M1618.75 1209.30V1213.10" stroke="#333" stroke-width="1.3"/>
<text transform="translate(1618.75,1238.60) scale(1.0850,1)" font-size="27.50" text-anchor="middle" fill="#4a4646" stroke="#4a4646" stroke-width="0.3">5</text>
<path d="M1787.70 1209.30V1213.10" stroke="#333" stroke-width="1.3"/>
<text transform="translate(1787.70,1238.60) scale(1.0850,1)" font-size="27.50" text-anchor="middle" fill="#4a4646" stroke="#4a4646" stroke-width="0.3">10</text>
<text transform="translate(1669.90,1270.20) scale(1.0940,1)" font-size="28.60" text-anchor="middle" fill="#000" stroke="#000" stroke-width="0.3">Reaction count</text>
<text transform="translate(137.21,1391.10) scale(0.9554,0.9871)" font-family="'DejaVu Sans',Verdana,sans-serif" font-size="40" fill="#111" stroke="#111" stroke-width="0.20">d</text>
<path d="M384.46 1529.70L384.46 1447.30M488.73 1531.70L488.73 1447.30M384.46 1447.30L488.73 1447.30M324.88 1529.70L324.88 1413.00M436.59 1447.30L436.59 1413.00M324.88 1413.00L436.59 1413.00M265.29 1529.70L265.29 1376.50M380.73 1413.00L380.73 1376.50M265.29 1376.50L380.73 1376.50" stroke="#000" stroke-width="2.00" fill="none" stroke-linecap="square"/>
<path d="M235.50 1634.67L233.40 1634.67M236.50 1669.66L233.40 1669.66M233.40 1634.67L233.40 1669.66M235.50 1611.35L175.20 1611.35M233.40 1652.17L175.20 1652.17M175.20 1611.35L175.20 1652.17M236.50 1716.32L137.30 1716.32M236.50 1762.97L137.30 1762.97M137.30 1716.32L137.30 1762.97M175.20 1631.76L114.80 1631.76M137.30 1739.65L114.80 1739.65M114.80 1631.76L114.80 1739.65M236.50 1558.86L79.70 1558.86M114.80 1685.70L79.70 1685.70M79.70 1558.86L79.70 1685.70" stroke="#000" stroke-width="2.00" fill="none" stroke-linecap="square"/>
<g stroke="#999999" stroke-width="1.90">
<rect x="235.50" y="1529.70" width="59.58" height="23.33" fill="#d43c4a"/>
<rect x="295.08" y="1529.70" width="59.58" height="23.33" fill="#f0f3a2"/>
<rect x="354.67" y="1529.70" width="59.58" height="23.33" fill="#f0f3a2"/>
<rect x="414.25" y="1529.70" width="59.58" height="23.33" fill="#f0f3a2"/>
<rect x="473.83" y="1529.70" width="59.58" height="23.33" fill="#f0f3a2"/>
<rect x="533.42" y="1529.70" width="59.58" height="23.33" fill="#f0f3a2"/>
<rect x="235.50" y="1553.03" width="59.58" height="23.33" fill="#d43c4a"/>
<rect x="295.08" y="1553.03" width="59.58" height="23.33" fill="#f0f3a2"/>
<rect x="354.67" y="1553.03" width="59.58" height="23.33" fill="#f0f3a2"/>
<rect x="414.25" y="1553.03" width="59.58" height="23.33" fill="#f0f3a2"/>
<rect x="473.83" y="1553.03" width="59.58" height="23.33" fill="#f0f3a2"/>
<rect x="533.42" y="1553.03" width="59.58" height="23.33" fill="#f0f3a2"/>
<rect x="235.50" y="1576.35" width="59.58" height="23.33" fill="#d43c4a"/>
<rect x="295.08" y="1576.35" width="59.58" height="23.33" fill="#f0f3a2"/>
<rect x="354.67" y="1576.35" width="59.58" height="23.33" fill="#f0f3a2"/>
<rect x="414.25" y="1576.35" width="59.58" height="23.33" fill="#f0f3a2"/>
<rect x="473.83" y="1576.35" width="59.58" height="23.33" fill="#f0f3a2"/>
<rect x="533.42" y="1576.35" width="59.58" height="23.33" fill="#f0f3a2"/>
<rect x="235.50" y="1599.68" width="59.58" height="23.33" fill="#d7f1a7"/>
<rect x="295.08" y="1599.68" width="59.58" height="23.33" fill="#f36b3c"/>
<rect x="354.67" y="1599.68" width="59.58" height="23.33" fill="#fa9553"/>
<rect x="414.25" y="1599.68" width="59.58" height="23.33" fill="#d7f1a7"/>
<rect x="473.83" y="1599.68" width="59.58" height="23.33" fill="#d7f1a7"/>
<rect x="533.42" y="1599.68" width="59.58" height="23.33" fill="#d7f1a7"/>
<rect x="235.50" y="1623.01" width="59.58" height="23.33" fill="#f0f3a2"/>
<rect x="295.08" y="1623.01" width="59.58" height="23.33" fill="#d43c4a"/>
<rect x="354.67" y="1623.01" width="59.58" height="23.33" fill="#f0f3a2"/>
<rect x="414.25" y="1623.01" width="59.58" height="23.33" fill="#f0f3a2"/>
<rect x="473.83" y="1623.01" width="59.58" height="23.33" fill="#f0f3a2"/>
<rect x="533.42" y="1623.01" width="59.58" height="23.33" fill="#f0f3a2"/>
<rect x="235.50" y="1646.34" width="59.58" height="23.33" fill="#f0f3a2"/>
<rect x="295.08" y="1646.34" width="59.58" height="23.33" fill="#d43c4a"/>
<rect x="354.67" y="1646.34" width="59.58" height="23.33" fill="#f0f3a2"/>
<rect x="414.25" y="1646.34" width="59.58" height="23.33" fill="#f0f3a2"/>
<rect x="473.83" y="1646.34" width="59.58" height="23.33" fill="#f0f3a2"/>
<rect x="533.42" y="1646.34" width="59.58" height="23.33" fill="#f0f3a2"/>
<rect x="235.50" y="1669.66" width="59.58" height="23.33" fill="#f0f3a2"/>
<rect x="295.08" y="1669.66" width="59.58" height="23.33" fill="#d43c4a"/>
<rect x="354.67" y="1669.66" width="59.58" height="23.33" fill="#f0f3a2"/>
<rect x="414.25" y="1669.66" width="59.58" height="23.33" fill="#f0f3a2"/>
<rect x="473.83" y="1669.66" width="59.58" height="23.33" fill="#f0f3a2"/>
<rect x="533.42" y="1669.66" width="59.58" height="23.33" fill="#f0f3a2"/>
<rect x="235.50" y="1692.99" width="59.58" height="23.33" fill="#f0f3a2"/>
<rect x="295.08" y="1692.99" width="59.58" height="23.33" fill="#f0f3a2"/>
<rect x="354.67" y="1692.99" width="59.58" height="23.33" fill="#d43c4a"/>
<rect x="414.25" y="1692.99" width="59.58" height="23.33" fill="#f0f3a2"/>
<rect x="473.83" y="1692.99" width="59.58" height="23.33" fill="#f0f3a2"/>
<rect x="533.42" y="1692.99" width="59.58" height="23.33" fill="#f0f3a2"/>
<rect x="235.50" y="1716.32" width="59.58" height="23.33" fill="#f0f3a2"/>
<rect x="295.08" y="1716.32" width="59.58" height="23.33" fill="#f0f3a2"/>
<rect x="354.67" y="1716.32" width="59.58" height="23.33" fill="#d43c4a"/>
<rect x="414.25" y="1716.32" width="59.58" height="23.33" fill="#f0f3a2"/>
<rect x="473.83" y="1716.32" width="59.58" height="23.33" fill="#f0f3a2"/>
<rect x="533.42" y="1716.32" width="59.58" height="23.33" fill="#f0f3a2"/>
<rect x="235.50" y="1739.65" width="59.58" height="23.33" fill="#4489be"/>
<rect x="295.08" y="1739.65" width="59.58" height="23.33" fill="#fed887"/>
<rect x="354.67" y="1739.65" width="59.58" height="23.33" fill="#fed887"/>
<rect x="414.25" y="1739.65" width="59.58" height="23.33" fill="#fed887"/>
<rect x="473.83" y="1739.65" width="59.58" height="23.33" fill="#fed887"/>
<rect x="533.42" y="1739.65" width="59.58" height="23.33" fill="#fed887"/>
<rect x="235.50" y="1762.97" width="59.58" height="23.33" fill="#4489be"/>
<rect x="295.08" y="1762.97" width="59.58" height="23.33" fill="#fed887"/>
<rect x="354.67" y="1762.97" width="59.58" height="23.33" fill="#fed887"/>
<rect x="414.25" y="1762.97" width="59.58" height="23.33" fill="#fed887"/>
<rect x="473.83" y="1762.97" width="59.58" height="23.33" fill="#fed887"/>
<rect x="533.42" y="1762.97" width="59.58" height="23.33" fill="#fed887"/>
</g>
<text transform="translate(601.30,1547.16) scale(1.1000,1)" font-size="16.00" text-anchor="start" fill="#000" stroke="#000" stroke-width="0.35">r0391</text>
<text transform="translate(601.30,1570.49) scale(1.1000,1)" font-size="16.00" text-anchor="start" fill="#000" stroke="#000" stroke-width="0.35">NP1</text>
<text transform="translate(601.30,1593.82) scale(1.1000,1)" font-size="16.00" text-anchor="start" fill="#000" stroke="#000" stroke-width="0.35">NICRNS</text>
<text transform="translate(601.30,1617.15) scale(1.1000,1)" font-size="16.00" text-anchor="start" fill="#000" stroke="#000" stroke-width="0.35">NMNATr</text>
<text transform="translate(601.30,1640.47) scale(1.1000,1)" font-size="16.00" text-anchor="start" fill="#000" stroke="#000" stroke-width="0.35">NADS2</text>
<text transform="translate(601.30,1663.80) scale(1.1000,1)" font-size="16.00" text-anchor="start" fill="#000" stroke="#000" stroke-width="0.35">NNATr</text>
<text transform="translate(601.30,1687.13) scale(1.1000,1)" font-size="16.00" text-anchor="start" fill="#000" stroke="#000" stroke-width="0.35">THD1m</text>
<text transform="translate(601.30,1710.45) scale(1.1000,1)" font-size="16.00" text-anchor="start" fill="#000" stroke="#000" stroke-width="0.35">NMNATn</text>
<text transform="translate(601.30,1733.78) scale(1.1000,1)" font-size="16.00" text-anchor="start" fill="#000" stroke="#000" stroke-width="0.35">NMNATm</text>
<text transform="translate(601.30,1757.11) scale(1.1000,1)" font-size="16.00" text-anchor="start" fill="#000" stroke="#000" stroke-width="0.35">NMNS</text>
<text transform="translate(601.30,1780.44) scale(1.1000,1)" font-size="16.00" text-anchor="start" fill="#000" stroke="#000" stroke-width="0.35">r0527</text>
<text transform="translate(279.79,1811.30) rotate(-45.00)" font-size="28.80" text-anchor="end" fill="#000" stroke="#000" stroke-width="0.5">IPD3</text>
<text transform="translate(339.38,1811.30) rotate(-45.00)" font-size="28.80" text-anchor="end" fill="#000" stroke="#000" stroke-width="0.5">IPD1</text>
<text transform="translate(398.96,1811.30) rotate(-45.00)" font-size="28.80" text-anchor="end" fill="#000" stroke="#000" stroke-width="0.5">IPD2</text>
<text transform="translate(458.54,1811.30) rotate(-45.00)" font-size="28.80" text-anchor="end" fill="#000" stroke="#000" stroke-width="0.5">CTRL1</text>
<text transform="translate(518.12,1811.30) rotate(-45.00)" font-size="28.80" text-anchor="end" fill="#000" stroke="#000" stroke-width="0.5">CTRL2</text>
<text transform="translate(577.71,1811.30) rotate(-45.00)" font-size="28.80" text-anchor="end" fill="#000" stroke="#000" stroke-width="0.5">CTRL3</text>
<defs><linearGradient id="gD" x1="0" y1="0" x2="0" y2="1">
<stop offset="0.0000" stop-color="#d33a4a"/>
<stop offset="0.0098" stop-color="#d43c4a"/>
<stop offset="0.0711" stop-color="#e45546"/>
<stop offset="0.1324" stop-color="#f36b3c"/>
<stop offset="0.1936" stop-color="#f8894d"/>
<stop offset="0.2549" stop-color="#fda65d"/>
<stop offset="0.3162" stop-color="#fdbe71"/>
<stop offset="0.3775" stop-color="#fed887"/>
<stop offset="0.4387" stop-color="#fae58e"/>
<stop offset="0.5000" stop-color="#f7f094"/>
<stop offset="0.5613" stop-color="#f4f29e"/>
<stop offset="0.6225" stop-color="#ecf3a5"/>
<stop offset="0.6838" stop-color="#d2f0a7"/>
<stop offset="0.7451" stop-color="#b5eca8"/>
<stop offset="0.8064" stop-color="#9ee5b3"/>
<stop offset="0.8676" stop-color="#87debe"/>
<stop offset="0.9289" stop-color="#62acb6"/>
<stop offset="0.9902" stop-color="#4489be"/>
<stop offset="1.0000" stop-color="#4387be"/>
</linearGradient></defs>
<rect x="698.60" y="1529.80" width="29.90" height="366.40" fill="url(#gD)"/>
<text transform="translate(739.80,1543.61) scale(1.1200,1)" font-size="27.40" text-anchor="start" fill="#000" stroke="#000" stroke-width="0.3">2</text>
<text transform="translate(739.80,1633.41) scale(1.1200,1)" font-size="27.40" text-anchor="start" fill="#000" stroke="#000" stroke-width="0.3">1</text>
<text transform="translate(739.80,1723.21) scale(1.1200,1)" font-size="27.40" text-anchor="start" fill="#000" stroke="#000" stroke-width="0.3">0</text>
<text transform="translate(739.80,1813.01) scale(1.1200,1)" font-size="27.40" text-anchor="start" fill="#000" stroke="#000" stroke-width="0.3">−1</text>
<text transform="translate(739.80,1902.81) scale(1.1200,1)" font-size="27.40" text-anchor="start" fill="#000" stroke="#000" stroke-width="0.3">−2</text>
<text transform="translate(640.80,1492.70) scale(1.1000,1)" font-size="26.90" text-anchor="start" fill="#000" stroke="#000" stroke-width="0.3">Fold change</text>
<text transform="translate(176.23,2033.60) scale(0.9456,0.9738)" font-family="'DejaVu Sans',Verdana,sans-serif" font-size="40" fill="#111" stroke="#111" stroke-width="0.20">e</text>
<path d="M546.72 2137.00L546.72 2126.60M601.77 2137.00L601.77 2126.60M546.72 2126.60L601.77 2126.60M491.67 2137.00L491.67 2118.20M574.25 2126.60L574.25 2118.20M491.67 2118.20L574.25 2118.20M436.62 2137.00L436.62 2105.50M532.96 2118.20L532.96 2105.50M436.62 2105.50L532.96 2105.50M381.57 2137.00L381.57 2088.20M484.79 2105.50L484.79 2088.20M381.57 2088.20L484.79 2088.20M326.52 2137.00L326.52 1997.80M433.18 2088.20L433.18 1997.80M326.52 1997.80L433.18 1997.80" stroke="#000" stroke-width="1.80" fill="none" stroke-linecap="square"/>
<path d="M299.00 2283.20L298.00 2283.20M300.00 2329.72L298.00 2329.72M298.00 2283.20L298.00 2329.72M300.00 2243.33L297.10 2243.33M298.00 2306.46L297.10 2306.46M297.10 2243.33L297.10 2306.46M299.00 2203.45L294.00 2203.45M297.10 2274.89L294.00 2274.89M294.00 2203.45L294.00 2274.89M299.00 2176.87L288.00 2176.87M294.00 2239.17L288.00 2239.17M288.00 2176.87L288.00 2239.17M299.00 2150.29L249.10 2150.29M288.00 2208.02L249.10 2208.02M249.10 2150.29L249.10 2208.02M299.00 2389.53L204.20 2389.53M299.00 2416.11L204.20 2416.11M204.20 2389.53L204.20 2416.11M249.10 2179.16L155.40 2179.16M204.20 2402.82L155.40 2402.82M155.40 2179.16L155.40 2402.82" stroke="#000" stroke-width="1.80" fill="none" stroke-linecap="square"/>
<g stroke="#999999" stroke-width="1.50">
<rect x="299.00" y="2137.00" width="55.05" height="26.58" fill="#ea5e42"/>
<rect x="354.05" y="2137.00" width="55.05" height="26.58" fill="#f1f2a1"/>
<rect x="409.10" y="2137.00" width="55.05" height="26.58" fill="#fdb469"/>
<rect x="464.15" y="2137.00" width="55.05" height="26.58" fill="#cff0a7"/>
<rect x="519.20" y="2137.00" width="55.05" height="26.58" fill="#cff0a7"/>
<rect x="574.25" y="2137.00" width="55.05" height="26.58" fill="#eef3a4"/>
<rect x="299.00" y="2163.58" width="55.05" height="26.58" fill="#d43c4a"/>
<rect x="354.05" y="2163.58" width="55.05" height="26.58" fill="#f1f2a1"/>
<rect x="409.10" y="2163.58" width="55.05" height="26.58" fill="#ecf3a5"/>
<rect x="464.15" y="2163.58" width="55.05" height="26.58" fill="#eef3a4"/>
<rect x="519.20" y="2163.58" width="55.05" height="26.58" fill="#f2f29f"/>
<rect x="574.25" y="2163.58" width="55.05" height="26.58" fill="#f6f096"/>
<rect x="299.00" y="2190.16" width="55.05" height="26.58" fill="#d43c4a"/>
<rect x="354.05" y="2190.16" width="55.05" height="26.58" fill="#f2f29f"/>
<rect x="409.10" y="2190.16" width="55.05" height="26.58" fill="#eff3a2"/>
<rect x="464.15" y="2190.16" width="55.05" height="26.58" fill="#eff3a2"/>
<rect x="519.20" y="2190.16" width="55.05" height="26.58" fill="#eff3a2"/>
<rect x="574.25" y="2190.16" width="55.05" height="26.58" fill="#eff3a2"/>
<rect x="299.00" y="2216.75" width="55.05" height="26.58" fill="#d43c4a"/>
<rect x="354.05" y="2216.75" width="55.05" height="26.58" fill="#f2f29f"/>
<rect x="409.10" y="2216.75" width="55.05" height="26.58" fill="#eff3a2"/>
<rect x="464.15" y="2216.75" width="55.05" height="26.58" fill="#eff3a2"/>
<rect x="519.20" y="2216.75" width="55.05" height="26.58" fill="#eff3a2"/>
<rect x="574.25" y="2216.75" width="55.05" height="26.58" fill="#eff3a2"/>
<rect x="299.00" y="2243.33" width="55.05" height="26.58" fill="#d43c4a"/>
<rect x="354.05" y="2243.33" width="55.05" height="26.58" fill="#f2f29f"/>
<rect x="409.10" y="2243.33" width="55.05" height="26.58" fill="#eff3a2"/>
<rect x="464.15" y="2243.33" width="55.05" height="26.58" fill="#eff3a2"/>
<rect x="519.20" y="2243.33" width="55.05" height="26.58" fill="#eff3a2"/>
<rect x="574.25" y="2243.33" width="55.05" height="26.58" fill="#eff3a2"/>
<rect x="299.00" y="2269.91" width="55.05" height="26.58" fill="#d43c4a"/>
<rect x="354.05" y="2269.91" width="55.05" height="26.58" fill="#f2f29f"/>
<rect x="409.10" y="2269.91" width="55.05" height="26.58" fill="#eff3a2"/>
<rect x="464.15" y="2269.91" width="55.05" height="26.58" fill="#eff3a2"/>
<rect x="519.20" y="2269.91" width="55.05" height="26.58" fill="#eff3a2"/>
<rect x="574.25" y="2269.91" width="55.05" height="26.58" fill="#eff3a2"/>
<rect x="299.00" y="2296.49" width="55.05" height="26.58" fill="#d43c4a"/>
<rect x="354.05" y="2296.49" width="55.05" height="26.58" fill="#f2f29f"/>
<rect x="409.10" y="2296.49" width="55.05" height="26.58" fill="#eff3a2"/>
<rect x="464.15" y="2296.49" width="55.05" height="26.58" fill="#eff3a2"/>
<rect x="519.20" y="2296.49" width="55.05" height="26.58" fill="#eff3a2"/>
<rect x="574.25" y="2296.49" width="55.05" height="26.58" fill="#eff3a2"/>
<rect x="299.00" y="2323.07" width="55.05" height="26.58" fill="#d43c4a"/>
<rect x="354.05" y="2323.07" width="55.05" height="26.58" fill="#f2f29f"/>
<rect x="409.10" y="2323.07" width="55.05" height="26.58" fill="#eff3a2"/>
<rect x="464.15" y="2323.07" width="55.05" height="26.58" fill="#eff3a2"/>
<rect x="519.20" y="2323.07" width="55.05" height="26.58" fill="#eff3a2"/>
<rect x="574.25" y="2323.07" width="55.05" height="26.58" fill="#eff3a2"/>
<rect x="299.00" y="2349.65" width="55.05" height="26.58" fill="#d43c4a"/>
<rect x="354.05" y="2349.65" width="55.05" height="26.58" fill="#f2f29f"/>
<rect x="409.10" y="2349.65" width="55.05" height="26.58" fill="#eff3a2"/>
<rect x="464.15" y="2349.65" width="55.05" height="26.58" fill="#eff3a2"/>
<rect x="519.20" y="2349.65" width="55.05" height="26.58" fill="#eff3a2"/>
<rect x="574.25" y="2349.65" width="55.05" height="26.58" fill="#eff3a2"/>
<rect x="299.00" y="2376.24" width="55.05" height="26.58" fill="#4a90bc"/>
<rect x="354.05" y="2376.24" width="55.05" height="26.58" fill="#fddb88"/>
<rect x="409.10" y="2376.24" width="55.05" height="26.58" fill="#fed383"/>
<rect x="464.15" y="2376.24" width="55.05" height="26.58" fill="#f5f29c"/>
<rect x="519.20" y="2376.24" width="55.05" height="26.58" fill="#fdb065"/>
<rect x="574.25" y="2376.24" width="55.05" height="26.58" fill="#fece7e"/>
<rect x="299.00" y="2402.82" width="55.05" height="26.58" fill="#f1f2a1"/>
<rect x="354.05" y="2402.82" width="55.05" height="26.58" fill="#d43c4a"/>
<rect x="409.10" y="2402.82" width="55.05" height="26.58" fill="#eff3a2"/>
<rect x="464.15" y="2402.82" width="55.05" height="26.58" fill="#eff3a2"/>
<rect x="519.20" y="2402.82" width="55.05" height="26.58" fill="#eff3a2"/>
<rect x="574.25" y="2402.82" width="55.05" height="26.58" fill="#eff3a2"/>
</g>
<text transform="translate(636.60,2155.89) scale(1.0570,1)" font-size="15.50" text-anchor="start" fill="#000" stroke="#000" stroke-width="0.35">r0365</text>
<text transform="translate(636.60,2182.47) scale(1.0570,1)" font-size="15.50" text-anchor="start" fill="#000" stroke="#000" stroke-width="0.35">HMR_3113</text>
<text transform="translate(636.60,2209.05) scale(1.0570,1)" font-size="15.50" text-anchor="start" fill="#000" stroke="#000" stroke-width="0.35">AKGDm</text>
<text transform="translate(636.60,2235.64) scale(1.0570,1)" font-size="15.50" text-anchor="start" fill="#000" stroke="#000" stroke-width="0.35">FAOXC6C4m</text>
<text transform="translate(636.60,2262.22) scale(1.0570,1)" font-size="15.50" text-anchor="start" fill="#000" stroke="#000" stroke-width="0.35">FAOXC4C2m</text>
<text transform="translate(636.60,2288.80) scale(1.0570,1)" font-size="15.50" text-anchor="start" fill="#000" stroke="#000" stroke-width="0.35">FAOXC163GC142m</text>
<text transform="translate(636.60,2315.38) scale(1.0570,1)" font-size="15.50" text-anchor="start" fill="#000" stroke="#000" stroke-width="0.35">HMR_3296</text>
<text transform="translate(636.60,2341.96) scale(1.0570,1)" font-size="15.50" text-anchor="start" fill="#000" stroke="#000" stroke-width="0.35">FAOXC122C101m</text>
<text transform="translate(636.60,2368.55) scale(1.0570,1)" font-size="15.50" text-anchor="start" fill="#000" stroke="#000" stroke-width="0.35">FAOXC142C122m</text>
<text transform="translate(636.60,2395.13) scale(1.0570,1)" font-size="15.50" text-anchor="start" fill="#000" stroke="#000" stroke-width="0.35">MDHm</text>
<text transform="translate(636.60,2421.71) scale(1.0570,1)" font-size="15.50" text-anchor="start" fill="#000" stroke="#000" stroke-width="0.35">ICDHxm</text>
<text transform="translate(341.02,2454.40) rotate(-45.00)" font-size="28.80" text-anchor="end" fill="#000" stroke="#000" stroke-width="0.5">IPD1</text>
<text transform="translate(396.07,2454.40) rotate(-45.00)" font-size="28.80" text-anchor="end" fill="#000" stroke="#000" stroke-width="0.5">CTRL2</text>
<text transform="translate(451.12,2454.40) rotate(-45.00)" font-size="28.80" text-anchor="end" fill="#000" stroke="#000" stroke-width="0.5">IPD3</text>
<text transform="translate(506.17,2454.40) rotate(-45.00)" font-size="28.80" text-anchor="end" fill="#000" stroke="#000" stroke-width="0.5">CTRL1</text>
<text transform="translate(561.22,2454.40) rotate(-45.00)" font-size="28.80" text-anchor="end" fill="#000" stroke="#000" stroke-width="0.5">CTRL3</text>
<text transform="translate(616.27,2454.40) rotate(-45.00)" font-size="28.80" text-anchor="end" fill="#000" stroke="#000" stroke-width="0.5">IPD2</text>
<defs><linearGradient id="gE" x1="0" y1="0" x2="0" y2="1">
<stop offset="0.0000" stop-color="#d33a4a"/>
<stop offset="0.0098" stop-color="#d43c4a"/>
<stop offset="0.0711" stop-color="#e45546"/>
<stop offset="0.1324" stop-color="#f36b3c"/>
<stop offset="0.1936" stop-color="#f8894d"/>
<stop offset="0.2549" stop-color="#fda65d"/>
<stop offset="0.3162" stop-color="#fdbe71"/>
<stop offset="0.3775" stop-color="#fed887"/>
<stop offset="0.4387" stop-color="#fae58e"/>
<stop offset="0.5000" stop-color="#f7f094"/>
<stop offset="0.5613" stop-color="#f4f29e"/>
<stop offset="0.6225" stop-color="#ecf3a5"/>
<stop offset="0.6838" stop-color="#d2f0a7"/>
<stop offset="0.7451" stop-color="#b5eca8"/>
<stop offset="0.8064" stop-color="#9ee5b3"/>
<stop offset="0.8676" stop-color="#87debe"/>
<stop offset="0.9289" stop-color="#62acb6"/>
<stop offset="0.9902" stop-color="#4489be"/>
<stop offset="1.0000" stop-color="#4387be"/>
</linearGradient></defs>
<rect x="803.80" y="2137.20" width="27.40" height="391.20" fill="url(#gE)"/>
<text transform="translate(841.90,2151.01) scale(1.0300,1)" font-size="27.40" text-anchor="start" fill="#000" stroke="#000" stroke-width="0.3">2</text>
<text transform="translate(841.90,2246.81) scale(1.0300,1)" font-size="27.40" text-anchor="start" fill="#000" stroke="#000" stroke-width="0.3">1</text>
<text transform="translate(841.90,2342.61) scale(1.0300,1)" font-size="27.40" text-anchor="start" fill="#000" stroke="#000" stroke-width="0.3">0</text>
<text transform="translate(841.90,2438.31) scale(1.0300,1)" font-size="27.40" text-anchor="start" fill="#000" stroke="#000" stroke-width="0.3">−1</text>
<text transform="translate(841.90,2534.11) scale(1.0300,1)" font-size="27.40" text-anchor="start" fill="#000" stroke="#000" stroke-width="0.3">−2</text>
<text transform="translate(793.00,2114.20) scale(1.0800,1)" font-size="27.70" text-anchor="start" fill="#000" stroke="#000" stroke-width="0.3">Flux</text>
<text transform="translate(1189.88,1547.60) scale(0.9568,0.9742)" font-family="'DejaVu Sans',Verdana,sans-serif" font-size="40" fill="#111" stroke="#111" stroke-width="0.20">f</text>
<path d="M1457.52 1694.40L1457.52 1608.30M1520.08 1694.40L1520.08 1608.30M1457.52 1608.30L1520.08 1608.30M1394.95 1694.40L1394.95 1600.00M1488.80 1608.30L1488.80 1600.00M1394.95 1600.00L1488.80 1600.00M1332.38 1694.40L1332.38 1583.00M1441.88 1600.00L1441.88 1583.00M1332.38 1583.00L1441.88 1583.00M1582.65 1694.40L1582.65 1566.50M1645.22 1694.40L1645.22 1566.50M1582.65 1566.50L1645.22 1566.50M1387.13 1583.00L1387.13 1536.60M1613.93 1566.50L1613.93 1536.60M1387.13 1536.60L1613.93 1536.60" stroke="#000" stroke-width="1.80" fill="none" stroke-linecap="square"/>
<path d="M1301.10 1701.93L1256.10 1701.93M1301.10 1717.00L1256.10 1717.00M1256.10 1701.93L1256.10 1717.00M1301.10 1732.07L1234.80 1732.07M1301.10 1747.13L1234.80 1747.13M1234.80 1732.07L1234.80 1747.13M1256.10 1709.47L1226.40 1709.47M1234.80 1739.60L1226.40 1739.60M1226.40 1709.47L1226.40 1739.60M1301.10 1777.26L1297.90 1777.26M1301.10 1792.33L1297.90 1792.33M1297.90 1777.26L1297.90 1792.33M1301.10 1762.20L1242.50 1762.20M1297.90 1784.80L1242.50 1784.80M1242.50 1762.20L1242.50 1784.80M1301.10 1837.53L1291.20 1837.53M1301.10 1852.59L1291.20 1852.59M1291.20 1837.53L1291.20 1852.59M1301.10 1822.46L1275.50 1822.46M1291.20 1845.06L1275.50 1845.06M1275.50 1822.46L1275.50 1845.06M1301.10 1807.39L1265.50 1807.39M1275.50 1833.76L1265.50 1833.76M1265.50 1807.39L1265.50 1833.76M1301.10 1867.66L1241.80 1867.66M1301.10 1882.72L1241.80 1882.72M1241.80 1867.66L1241.80 1882.72M1265.50 1820.58L1223.80 1820.58M1241.80 1875.19L1223.80 1875.19M1223.80 1820.58L1223.80 1875.19M1242.50 1773.50L1190.00 1773.50M1223.80 1847.88L1190.00 1847.88M1190.00 1773.50L1190.00 1847.88M1226.40 1724.53L1158.00 1724.53M1190.00 1810.69L1158.00 1810.69M1158.00 1724.53L1158.00 1810.69M1301.10 1897.79L1231.50 1897.79M1301.10 1912.86L1231.50 1912.86M1231.50 1897.79L1231.50 1912.86M1301.10 1927.92L1214.10 1927.92M1302.10 1956.17L1214.10 1956.17M1214.10 1927.92L1214.10 1956.17M1231.50 1905.32L1198.40 1905.32M1214.10 1942.05L1198.40 1942.05M1198.40 1905.32L1198.40 1942.05M1301.10 2003.25L1250.80 2003.25M1301.10 2018.32L1250.80 2018.32M1250.80 2003.25L1250.80 2018.32M1301.10 2093.65L1299.50 2093.65M1301.10 2108.72L1299.50 2108.72M1299.50 2093.65L1299.50 2108.72M1301.10 2078.58L1295.20 2078.58M1299.50 2101.18L1295.20 2101.18M1295.20 2078.58L1295.20 2101.18M1301.10 2063.52L1286.20 2063.52M1295.20 2089.88L1286.20 2089.88M1286.20 2063.52L1286.20 2089.88M1301.10 2048.45L1279.80 2048.45M1286.20 2076.70L1279.80 2076.70M1279.80 2048.45L1279.80 2076.70M1301.10 2033.38L1266.20 2033.38M1279.80 2062.58L1266.20 2062.58M1266.20 2033.38L1266.20 2062.58M1301.10 2138.85L1299.20 2138.85M1301.10 2153.91L1299.20 2153.91M1299.20 2138.85L1299.20 2153.91M1301.10 2123.78L1289.30 2123.78M1299.20 2146.38L1289.30 2146.38M1289.30 2123.78L1289.30 2146.38M1301.10 2184.05L1293.90 2184.05M1301.10 2199.11L1293.90 2199.11M1293.90 2184.05L1293.90 2199.11M1301.10 2168.98L1281.10 2168.98M1293.90 2191.58L1281.10 2191.58M1281.10 2168.98L1281.10 2191.58M1289.30 2135.08L1277.00 2135.08M1281.10 2180.28L1277.00 2180.28M1277.00 2135.08L1277.00 2180.28M1301.10 2229.24L1294.90 2229.24M1301.10 2244.31L1294.90 2244.31M1294.90 2229.24L1294.90 2244.31M1301.10 2214.18L1269.00 2214.18M1294.90 2236.78L1269.00 2236.78M1269.00 2214.18L1269.00 2236.78M1277.00 2157.68L1248.50 2157.68M1269.00 2225.48L1248.50 2225.48M1248.50 2157.68L1248.50 2225.48M1266.20 2047.98L1208.20 2047.98M1248.50 2191.58L1208.20 2191.58M1208.20 2047.98L1208.20 2191.58M1250.80 2010.79L1191.00 2010.79M1208.20 2119.78L1191.00 2119.78M1191.00 2010.79L1191.00 2119.78M1198.40 1923.69L1165.40 1923.69M1191.00 2065.28L1165.40 2065.28M1165.40 1923.69L1165.40 2065.28M1301.10 2274.44L1283.50 2274.44M1301.10 2289.51L1283.50 2289.51M1283.50 2274.44L1283.50 2289.51M1301.10 2259.38L1260.60 2259.38M1283.50 2281.97L1260.60 2281.97M1260.60 2259.38L1260.60 2281.97M1301.10 2304.57L1239.10 2304.57M1301.10 2319.64L1239.10 2319.64M1239.10 2304.57L1239.10 2319.64M1260.60 2270.67L1199.10 2270.67M1239.10 2312.11L1199.10 2312.11M1199.10 2270.67L1199.10 2312.11M1301.10 2349.77L1259.20 2349.77M1301.10 2364.84L1259.20 2364.84M1259.20 2349.77L1259.20 2364.84M1301.10 2334.70L1237.50 2334.70M1259.20 2357.30L1237.50 2357.30M1237.50 2334.70L1237.50 2357.30M1301.10 2394.97L1279.20 2394.97M1301.10 2410.03L1279.20 2410.03M1279.20 2394.97L1279.20 2410.03M1301.10 2425.10L1262.80 2425.10M1301.10 2440.17L1262.80 2440.17M1262.80 2425.10L1262.80 2440.17M1279.20 2402.50L1240.10 2402.50M1262.80 2432.63L1240.10 2432.63M1240.10 2402.50L1240.10 2432.63M1301.10 2379.90L1211.10 2379.90M1240.10 2417.57L1211.10 2417.57M1211.10 2379.90L1211.10 2417.57M1237.50 2346.00L1186.10 2346.00M1211.10 2398.74L1186.10 2398.74M1186.10 2346.00L1186.10 2398.74M1199.10 2291.39L1156.70 2291.39M1186.10 2372.37L1156.70 2372.37M1156.70 2291.39L1156.70 2372.37M1165.40 1994.48L1145.70 1994.48M1156.70 2331.88L1145.70 2331.88M1145.70 1994.48L1145.70 2331.88M1158.00 1767.61L1137.40 1767.61M1145.70 2163.18L1137.40 2163.18M1137.40 1767.61L1137.40 2163.18" stroke="#000" stroke-width="1.80" fill="none" stroke-linecap="square"/>
<g stroke="#999999" stroke-width="1.50">
<rect x="1301.10" y="1694.40" width="62.57" height="15.07" fill="#d43c4a"/>
<rect x="1363.67" y="1694.40" width="62.57" height="15.07" fill="#f1f2a1"/>
<rect x="1426.23" y="1694.40" width="62.57" height="15.07" fill="#f1f2a1"/>
<rect x="1488.80" y="1694.40" width="62.57" height="15.07" fill="#f1f2a1"/>
<rect x="1551.37" y="1694.40" width="62.57" height="15.07" fill="#f1f2a1"/>
<rect x="1613.93" y="1694.40" width="62.57" height="15.07" fill="#f1f2a1"/>
<rect x="1301.10" y="1709.47" width="62.57" height="15.07" fill="#e15047"/>
<rect x="1363.67" y="1709.47" width="62.57" height="15.07" fill="#fdc375"/>
<rect x="1426.23" y="1709.47" width="62.57" height="15.07" fill="#e2f2a6"/>
<rect x="1488.80" y="1709.47" width="62.57" height="15.07" fill="#e2f2a6"/>
<rect x="1551.37" y="1709.47" width="62.57" height="15.07" fill="#e2f2a6"/>
<rect x="1613.93" y="1709.47" width="62.57" height="15.07" fill="#e2f2a6"/>
<rect x="1301.10" y="1724.53" width="62.57" height="15.07" fill="#ea5e42"/>
<rect x="1363.67" y="1724.53" width="62.57" height="15.07" fill="#ddf1a6"/>
<rect x="1426.23" y="1724.53" width="62.57" height="15.07" fill="#e0f2a6"/>
<rect x="1488.80" y="1724.53" width="62.57" height="15.07" fill="#ddf1a6"/>
<rect x="1551.37" y="1724.53" width="62.57" height="15.07" fill="#ddf1a6"/>
<rect x="1613.93" y="1724.53" width="62.57" height="15.07" fill="#fdb065"/>
<rect x="1301.10" y="1739.60" width="62.57" height="15.07" fill="#f98f50"/>
<rect x="1363.67" y="1739.60" width="62.57" height="15.07" fill="#fdb469"/>
<rect x="1426.23" y="1739.60" width="62.57" height="15.07" fill="#a3e6b1"/>
<rect x="1488.80" y="1739.60" width="62.57" height="15.07" fill="#f5f29c"/>
<rect x="1551.37" y="1739.60" width="62.57" height="15.07" fill="#a3e6b1"/>
<rect x="1613.93" y="1739.60" width="62.57" height="15.07" fill="#fece7e"/>
<rect x="1301.10" y="1754.66" width="62.57" height="15.07" fill="#f67d46"/>
<rect x="1363.67" y="1754.66" width="62.57" height="15.07" fill="#d2f0a7"/>
<rect x="1426.23" y="1754.66" width="62.57" height="15.07" fill="#d7f1a7"/>
<rect x="1488.80" y="1754.66" width="62.57" height="15.07" fill="#f67d46"/>
<rect x="1551.37" y="1754.66" width="62.57" height="15.07" fill="#d7f1a7"/>
<rect x="1613.93" y="1754.66" width="62.57" height="15.07" fill="#dcf1a6"/>
<rect x="1301.10" y="1769.73" width="62.57" height="15.07" fill="#fddb88"/>
<rect x="1363.67" y="1769.73" width="62.57" height="15.07" fill="#eef3a4"/>
<rect x="1426.23" y="1769.73" width="62.57" height="15.07" fill="#fed887"/>
<rect x="1488.80" y="1769.73" width="62.57" height="15.07" fill="#ed6240"/>
<rect x="1551.37" y="1769.73" width="62.57" height="15.07" fill="#dcf1a6"/>
<rect x="1613.93" y="1769.73" width="62.57" height="15.07" fill="#8cdfbc"/>
<rect x="1301.10" y="1784.80" width="62.57" height="15.07" fill="#fddb88"/>
<rect x="1363.67" y="1784.80" width="62.57" height="15.07" fill="#eef3a4"/>
<rect x="1426.23" y="1784.80" width="62.57" height="15.07" fill="#fed383"/>
<rect x="1488.80" y="1784.80" width="62.57" height="15.07" fill="#ed6240"/>
<rect x="1551.37" y="1784.80" width="62.57" height="15.07" fill="#dcf1a6"/>
<rect x="1613.93" y="1784.80" width="62.57" height="15.07" fill="#90e1ba"/>
<rect x="1301.10" y="1799.86" width="62.57" height="15.07" fill="#fdc87a"/>
<rect x="1363.67" y="1799.86" width="62.57" height="15.07" fill="#fdc87a"/>
<rect x="1426.23" y="1799.86" width="62.57" height="15.07" fill="#f7f094"/>
<rect x="1488.80" y="1799.86" width="62.57" height="15.07" fill="#fdc87a"/>
<rect x="1551.37" y="1799.86" width="62.57" height="15.07" fill="#f8ec92"/>
<rect x="1613.93" y="1799.86" width="62.57" height="15.07" fill="#488dbd"/>
<rect x="1301.10" y="1814.93" width="62.57" height="15.07" fill="#fddb88"/>
<rect x="1363.67" y="1814.93" width="62.57" height="15.07" fill="#fddb88"/>
<rect x="1426.23" y="1814.93" width="62.57" height="15.07" fill="#f9e78f"/>
<rect x="1488.80" y="1814.93" width="62.57" height="15.07" fill="#fddb88"/>
<rect x="1551.37" y="1814.93" width="62.57" height="15.07" fill="#fdb065"/>
<rect x="1613.93" y="1814.93" width="62.57" height="15.07" fill="#4489be"/>
<rect x="1301.10" y="1829.99" width="62.57" height="15.07" fill="#fed887"/>
<rect x="1363.67" y="1829.99" width="62.57" height="15.07" fill="#fed887"/>
<rect x="1426.23" y="1829.99" width="62.57" height="15.07" fill="#fece7e"/>
<rect x="1488.80" y="1829.99" width="62.57" height="15.07" fill="#fed887"/>
<rect x="1551.37" y="1829.99" width="62.57" height="15.07" fill="#fed887"/>
<rect x="1613.93" y="1829.99" width="62.57" height="15.07" fill="#4489be"/>
<rect x="1301.10" y="1845.06" width="62.57" height="15.07" fill="#fed383"/>
<rect x="1363.67" y="1845.06" width="62.57" height="15.07" fill="#fed383"/>
<rect x="1426.23" y="1845.06" width="62.57" height="15.07" fill="#fed383"/>
<rect x="1488.80" y="1845.06" width="62.57" height="15.07" fill="#fed887"/>
<rect x="1551.37" y="1845.06" width="62.57" height="15.07" fill="#fed383"/>
<rect x="1613.93" y="1845.06" width="62.57" height="15.07" fill="#4489be"/>
<rect x="1301.10" y="1860.13" width="62.57" height="15.07" fill="#fdc375"/>
<rect x="1363.67" y="1860.13" width="62.57" height="15.07" fill="#99e4b5"/>
<rect x="1426.23" y="1860.13" width="62.57" height="15.07" fill="#fdc375"/>
<rect x="1488.80" y="1860.13" width="62.57" height="15.07" fill="#fdbe71"/>
<rect x="1551.37" y="1860.13" width="62.57" height="15.07" fill="#fece7e"/>
<rect x="1613.93" y="1860.13" width="62.57" height="15.07" fill="#90e1ba"/>
<rect x="1301.10" y="1875.19" width="62.57" height="15.07" fill="#fbe28d"/>
<rect x="1363.67" y="1875.19" width="62.57" height="15.07" fill="#f6f198"/>
<rect x="1426.23" y="1875.19" width="62.57" height="15.07" fill="#f8894d"/>
<rect x="1488.80" y="1875.19" width="62.57" height="15.07" fill="#f5f19a"/>
<rect x="1551.37" y="1875.19" width="62.57" height="15.07" fill="#fed383"/>
<rect x="1613.93" y="1875.19" width="62.57" height="15.07" fill="#5ca5b8"/>
<rect x="1301.10" y="1890.26" width="62.57" height="15.07" fill="#f1f2a1"/>
<rect x="1363.67" y="1890.26" width="62.57" height="15.07" fill="#d43c4a"/>
<rect x="1426.23" y="1890.26" width="62.57" height="15.07" fill="#f1f2a1"/>
<rect x="1488.80" y="1890.26" width="62.57" height="15.07" fill="#f1f2a1"/>
<rect x="1551.37" y="1890.26" width="62.57" height="15.07" fill="#f1f2a1"/>
<rect x="1613.93" y="1890.26" width="62.57" height="15.07" fill="#f1f2a1"/>
<rect x="1301.10" y="1905.32" width="62.57" height="15.07" fill="#d7f1a7"/>
<rect x="1363.67" y="1905.32" width="62.57" height="15.07" fill="#f57743"/>
<rect x="1426.23" y="1905.32" width="62.57" height="15.07" fill="#d7f1a7"/>
<rect x="1488.80" y="1905.32" width="62.57" height="15.07" fill="#d7f1a7"/>
<rect x="1551.37" y="1905.32" width="62.57" height="15.07" fill="#d7f1a7"/>
<rect x="1613.93" y="1905.32" width="62.57" height="15.07" fill="#f57743"/>
<rect x="1301.10" y="1920.39" width="62.57" height="15.07" fill="#c1eea8"/>
<rect x="1363.67" y="1920.39" width="62.57" height="15.07" fill="#fdc87a"/>
<rect x="1426.23" y="1920.39" width="62.57" height="15.07" fill="#f57743"/>
<rect x="1488.80" y="1920.39" width="62.57" height="15.07" fill="#c1eea8"/>
<rect x="1551.37" y="1920.39" width="62.57" height="15.07" fill="#c1eea8"/>
<rect x="1613.93" y="1920.39" width="62.57" height="15.07" fill="#fdb96d"/>
<rect x="1301.10" y="1935.46" width="62.57" height="15.07" fill="#4489be"/>
<rect x="1363.67" y="1935.46" width="62.57" height="15.07" fill="#fed887"/>
<rect x="1426.23" y="1935.46" width="62.57" height="15.07" fill="#fed887"/>
<rect x="1488.80" y="1935.46" width="62.57" height="15.07" fill="#fed887"/>
<rect x="1551.37" y="1935.46" width="62.57" height="15.07" fill="#fed887"/>
<rect x="1613.93" y="1935.46" width="62.57" height="15.07" fill="#fed887"/>
<rect x="1301.10" y="1950.52" width="62.57" height="15.07" fill="#4489be"/>
<rect x="1363.67" y="1950.52" width="62.57" height="15.07" fill="#fed887"/>
<rect x="1426.23" y="1950.52" width="62.57" height="15.07" fill="#fed887"/>
<rect x="1488.80" y="1950.52" width="62.57" height="15.07" fill="#fed887"/>
<rect x="1551.37" y="1950.52" width="62.57" height="15.07" fill="#fed887"/>
<rect x="1613.93" y="1950.52" width="62.57" height="15.07" fill="#fed887"/>
<rect x="1301.10" y="1965.59" width="62.57" height="15.07" fill="#4489be"/>
<rect x="1363.67" y="1965.59" width="62.57" height="15.07" fill="#fed887"/>
<rect x="1426.23" y="1965.59" width="62.57" height="15.07" fill="#fed887"/>
<rect x="1488.80" y="1965.59" width="62.57" height="15.07" fill="#fed887"/>
<rect x="1551.37" y="1965.59" width="62.57" height="15.07" fill="#fed887"/>
<rect x="1613.93" y="1965.59" width="62.57" height="15.07" fill="#fed887"/>
<rect x="1301.10" y="1980.65" width="62.57" height="15.07" fill="#4489be"/>
<rect x="1363.67" y="1980.65" width="62.57" height="15.07" fill="#fed887"/>
<rect x="1426.23" y="1980.65" width="62.57" height="15.07" fill="#fed887"/>
<rect x="1488.80" y="1980.65" width="62.57" height="15.07" fill="#fed887"/>
<rect x="1551.37" y="1980.65" width="62.57" height="15.07" fill="#fed887"/>
<rect x="1613.93" y="1980.65" width="62.57" height="15.07" fill="#fed887"/>
<rect x="1301.10" y="1995.72" width="62.57" height="15.07" fill="#fed887"/>
<rect x="1363.67" y="1995.72" width="62.57" height="15.07" fill="#c1eea8"/>
<rect x="1426.23" y="1995.72" width="62.57" height="15.07" fill="#fda65d"/>
<rect x="1488.80" y="1995.72" width="62.57" height="15.07" fill="#69b6b8"/>
<rect x="1551.37" y="1995.72" width="62.57" height="15.07" fill="#fdc87a"/>
<rect x="1613.93" y="1995.72" width="62.57" height="15.07" fill="#fed887"/>
<rect x="1301.10" y="2010.79" width="62.57" height="15.07" fill="#fdc87a"/>
<rect x="1363.67" y="2010.79" width="62.57" height="15.07" fill="#fed887"/>
<rect x="1426.23" y="2010.79" width="62.57" height="15.07" fill="#fed887"/>
<rect x="1488.80" y="2010.79" width="62.57" height="15.07" fill="#4489be"/>
<rect x="1551.37" y="2010.79" width="62.57" height="15.07" fill="#fed887"/>
<rect x="1613.93" y="2010.79" width="62.57" height="15.07" fill="#fed887"/>
<rect x="1301.10" y="2025.85" width="62.57" height="15.07" fill="#ecf3a5"/>
<rect x="1363.67" y="2025.85" width="62.57" height="15.07" fill="#fed887"/>
<rect x="1426.23" y="2025.85" width="62.57" height="15.07" fill="#ecf3a5"/>
<rect x="1488.80" y="2025.85" width="62.57" height="15.07" fill="#ecf3a5"/>
<rect x="1551.37" y="2025.85" width="62.57" height="15.07" fill="#ecf3a5"/>
<rect x="1613.93" y="2025.85" width="62.57" height="15.07" fill="#d74149"/>
<rect x="1301.10" y="2040.92" width="62.57" height="15.07" fill="#f6f198"/>
<rect x="1363.67" y="2040.92" width="62.57" height="15.07" fill="#e7f2a5"/>
<rect x="1426.23" y="2040.92" width="62.57" height="15.07" fill="#ecf3a5"/>
<rect x="1488.80" y="2040.92" width="62.57" height="15.07" fill="#ecf3a5"/>
<rect x="1551.37" y="2040.92" width="62.57" height="15.07" fill="#ecf3a5"/>
<rect x="1613.93" y="2040.92" width="62.57" height="15.07" fill="#d43c4a"/>
<rect x="1301.10" y="2055.98" width="62.57" height="15.07" fill="#eef3a4"/>
<rect x="1363.67" y="2055.98" width="62.57" height="15.07" fill="#f6f198"/>
<rect x="1426.23" y="2055.98" width="62.57" height="15.07" fill="#eef3a4"/>
<rect x="1488.80" y="2055.98" width="62.57" height="15.07" fill="#eef3a4"/>
<rect x="1551.37" y="2055.98" width="62.57" height="15.07" fill="#eef3a4"/>
<rect x="1613.93" y="2055.98" width="62.57" height="15.07" fill="#d43c4a"/>
<rect x="1301.10" y="2071.05" width="62.57" height="15.07" fill="#eff3a2"/>
<rect x="1363.67" y="2071.05" width="62.57" height="15.07" fill="#eff3a2"/>
<rect x="1426.23" y="2071.05" width="62.57" height="15.07" fill="#eff3a2"/>
<rect x="1488.80" y="2071.05" width="62.57" height="15.07" fill="#f1f2a1"/>
<rect x="1551.37" y="2071.05" width="62.57" height="15.07" fill="#eff3a2"/>
<rect x="1613.93" y="2071.05" width="62.57" height="15.07" fill="#d43c4a"/>
<rect x="1301.10" y="2086.12" width="62.57" height="15.07" fill="#eff3a2"/>
<rect x="1363.67" y="2086.12" width="62.57" height="15.07" fill="#eff3a2"/>
<rect x="1426.23" y="2086.12" width="62.57" height="15.07" fill="#eff3a2"/>
<rect x="1488.80" y="2086.12" width="62.57" height="15.07" fill="#eff3a2"/>
<rect x="1551.37" y="2086.12" width="62.57" height="15.07" fill="#eff3a2"/>
<rect x="1613.93" y="2086.12" width="62.57" height="15.07" fill="#d43c4a"/>
<rect x="1301.10" y="2101.18" width="62.57" height="15.07" fill="#eff3a2"/>
<rect x="1363.67" y="2101.18" width="62.57" height="15.07" fill="#eff3a2"/>
<rect x="1426.23" y="2101.18" width="62.57" height="15.07" fill="#eff3a2"/>
<rect x="1488.80" y="2101.18" width="62.57" height="15.07" fill="#eff3a2"/>
<rect x="1551.37" y="2101.18" width="62.57" height="15.07" fill="#eff3a2"/>
<rect x="1613.93" y="2101.18" width="62.57" height="15.07" fill="#d43c4a"/>
<rect x="1301.10" y="2116.25" width="62.57" height="15.07" fill="#eff3a2"/>
<rect x="1363.67" y="2116.25" width="62.57" height="15.07" fill="#ecf3a5"/>
<rect x="1426.23" y="2116.25" width="62.57" height="15.07" fill="#bbeda8"/>
<rect x="1488.80" y="2116.25" width="62.57" height="15.07" fill="#dcf1a6"/>
<rect x="1551.37" y="2116.25" width="62.57" height="15.07" fill="#f4713f"/>
<rect x="1613.93" y="2116.25" width="62.57" height="15.07" fill="#fa9553"/>
<rect x="1301.10" y="2131.31" width="62.57" height="15.07" fill="#f1f2a1"/>
<rect x="1363.67" y="2131.31" width="62.57" height="15.07" fill="#dcf1a6"/>
<rect x="1426.23" y="2131.31" width="62.57" height="15.07" fill="#d2f0a7"/>
<rect x="1488.80" y="2131.31" width="62.57" height="15.07" fill="#dcf1a6"/>
<rect x="1551.37" y="2131.31" width="62.57" height="15.07" fill="#ed6240"/>
<rect x="1613.93" y="2131.31" width="62.57" height="15.07" fill="#fda65d"/>
<rect x="1301.10" y="2146.38" width="62.57" height="15.07" fill="#f2f29f"/>
<rect x="1363.67" y="2146.38" width="62.57" height="15.07" fill="#dcf1a6"/>
<rect x="1426.23" y="2146.38" width="62.57" height="15.07" fill="#d2f0a7"/>
<rect x="1488.80" y="2146.38" width="62.57" height="15.07" fill="#dcf1a6"/>
<rect x="1551.37" y="2146.38" width="62.57" height="15.07" fill="#ed6240"/>
<rect x="1613.93" y="2146.38" width="62.57" height="15.07" fill="#fda65d"/>
<rect x="1301.10" y="2161.45" width="62.57" height="15.07" fill="#ccefa7"/>
<rect x="1363.67" y="2161.45" width="62.57" height="15.07" fill="#d7f1a7"/>
<rect x="1426.23" y="2161.45" width="62.57" height="15.07" fill="#dcf1a6"/>
<rect x="1488.80" y="2161.45" width="62.57" height="15.07" fill="#f5f29c"/>
<rect x="1551.37" y="2161.45" width="62.57" height="15.07" fill="#f57743"/>
<rect x="1613.93" y="2161.45" width="62.57" height="15.07" fill="#fa9553"/>
<rect x="1301.10" y="2176.51" width="62.57" height="15.07" fill="#eef3a4"/>
<rect x="1363.67" y="2176.51" width="62.57" height="15.07" fill="#dcf1a6"/>
<rect x="1426.23" y="2176.51" width="62.57" height="15.07" fill="#dcf1a6"/>
<rect x="1488.80" y="2176.51" width="62.57" height="15.07" fill="#d7f1a7"/>
<rect x="1551.37" y="2176.51" width="62.57" height="15.07" fill="#f7834a"/>
<rect x="1613.93" y="2176.51" width="62.57" height="15.07" fill="#f7834a"/>
<rect x="1301.10" y="2191.58" width="62.57" height="15.07" fill="#e2f2a6"/>
<rect x="1363.67" y="2191.58" width="62.57" height="15.07" fill="#dcf1a6"/>
<rect x="1426.23" y="2191.58" width="62.57" height="15.07" fill="#dcf1a6"/>
<rect x="1488.80" y="2191.58" width="62.57" height="15.07" fill="#dcf1a6"/>
<rect x="1551.37" y="2191.58" width="62.57" height="15.07" fill="#f7834a"/>
<rect x="1613.93" y="2191.58" width="62.57" height="15.07" fill="#f67d46"/>
<rect x="1301.10" y="2206.64" width="62.57" height="15.07" fill="#f1f2a1"/>
<rect x="1363.67" y="2206.64" width="62.57" height="15.07" fill="#f6f198"/>
<rect x="1426.23" y="2206.64" width="62.57" height="15.07" fill="#b0ebaa"/>
<rect x="1488.80" y="2206.64" width="62.57" height="15.07" fill="#ccefa7"/>
<rect x="1551.37" y="2206.64" width="62.57" height="15.07" fill="#fca05a"/>
<rect x="1613.93" y="2206.64" width="62.57" height="15.07" fill="#f36b3c"/>
<rect x="1301.10" y="2221.71" width="62.57" height="15.07" fill="#eef3a4"/>
<rect x="1363.67" y="2221.71" width="62.57" height="15.07" fill="#e2f2a6"/>
<rect x="1426.23" y="2221.71" width="62.57" height="15.07" fill="#d7f1a7"/>
<rect x="1488.80" y="2221.71" width="62.57" height="15.07" fill="#dcf1a6"/>
<rect x="1551.37" y="2221.71" width="62.57" height="15.07" fill="#fdc87a"/>
<rect x="1613.93" y="2221.71" width="62.57" height="15.07" fill="#de4b48"/>
<rect x="1301.10" y="2236.78" width="62.57" height="15.07" fill="#eef3a4"/>
<rect x="1363.67" y="2236.78" width="62.57" height="15.07" fill="#e2f2a6"/>
<rect x="1426.23" y="2236.78" width="62.57" height="15.07" fill="#d7f1a7"/>
<rect x="1488.80" y="2236.78" width="62.57" height="15.07" fill="#dcf1a6"/>
<rect x="1551.37" y="2236.78" width="62.57" height="15.07" fill="#fed383"/>
<rect x="1613.93" y="2236.78" width="62.57" height="15.07" fill="#da4648"/>
<rect x="1301.10" y="2251.84" width="62.57" height="15.07" fill="#fcdd8a"/>
<rect x="1363.67" y="2251.84" width="62.57" height="15.07" fill="#99e4b5"/>
<rect x="1426.23" y="2251.84" width="62.57" height="15.07" fill="#e15047"/>
<rect x="1488.80" y="2251.84" width="62.57" height="15.07" fill="#f2f29f"/>
<rect x="1551.37" y="2251.84" width="62.57" height="15.07" fill="#dcf1a6"/>
<rect x="1613.93" y="2251.84" width="62.57" height="15.07" fill="#fbe28d"/>
<rect x="1301.10" y="2266.91" width="62.57" height="15.07" fill="#f6f198"/>
<rect x="1363.67" y="2266.91" width="62.57" height="15.07" fill="#eef3a4"/>
<rect x="1426.23" y="2266.91" width="62.57" height="15.07" fill="#d43c4a"/>
<rect x="1488.80" y="2266.91" width="62.57" height="15.07" fill="#eef3a4"/>
<rect x="1551.37" y="2266.91" width="62.57" height="15.07" fill="#eef3a4"/>
<rect x="1613.93" y="2266.91" width="62.57" height="15.07" fill="#eef3a4"/>
<rect x="1301.10" y="2281.97" width="62.57" height="15.07" fill="#fae58e"/>
<rect x="1363.67" y="2281.97" width="62.57" height="15.07" fill="#d2f0a7"/>
<rect x="1426.23" y="2281.97" width="62.57" height="15.07" fill="#d43c4a"/>
<rect x="1488.80" y="2281.97" width="62.57" height="15.07" fill="#f1f2a1"/>
<rect x="1551.37" y="2281.97" width="62.57" height="15.07" fill="#f1f2a1"/>
<rect x="1613.93" y="2281.97" width="62.57" height="15.07" fill="#d2f0a7"/>
<rect x="1301.10" y="2297.04" width="62.57" height="15.07" fill="#90e1ba"/>
<rect x="1363.67" y="2297.04" width="62.57" height="15.07" fill="#a3e6b1"/>
<rect x="1426.23" y="2297.04" width="62.57" height="15.07" fill="#fdc375"/>
<rect x="1488.80" y="2297.04" width="62.57" height="15.07" fill="#fdbe71"/>
<rect x="1551.37" y="2297.04" width="62.57" height="15.07" fill="#fdc375"/>
<rect x="1613.93" y="2297.04" width="62.57" height="15.07" fill="#fdb96d"/>
<rect x="1301.10" y="2312.11" width="62.57" height="15.07" fill="#c6eea7"/>
<rect x="1363.67" y="2312.11" width="62.57" height="15.07" fill="#ace9ac"/>
<rect x="1426.23" y="2312.11" width="62.57" height="15.07" fill="#fdab61"/>
<rect x="1488.80" y="2312.11" width="62.57" height="15.07" fill="#c1eea8"/>
<rect x="1551.37" y="2312.11" width="62.57" height="15.07" fill="#fdab61"/>
<rect x="1613.93" y="2312.11" width="62.57" height="15.07" fill="#fda65d"/>
<rect x="1301.10" y="2327.17" width="62.57" height="15.07" fill="#ed6240"/>
<rect x="1363.67" y="2327.17" width="62.57" height="15.07" fill="#f4f29e"/>
<rect x="1426.23" y="2327.17" width="62.57" height="15.07" fill="#c1eea8"/>
<rect x="1488.80" y="2327.17" width="62.57" height="15.07" fill="#d7f1a7"/>
<rect x="1551.37" y="2327.17" width="62.57" height="15.07" fill="#fca05a"/>
<rect x="1613.93" y="2327.17" width="62.57" height="15.07" fill="#d7f1a7"/>
<rect x="1301.10" y="2342.24" width="62.57" height="15.07" fill="#fda65d"/>
<rect x="1363.67" y="2342.24" width="62.57" height="15.07" fill="#69b6b8"/>
<rect x="1426.23" y="2342.24" width="62.57" height="15.07" fill="#f5f29c"/>
<rect x="1488.80" y="2342.24" width="62.57" height="15.07" fill="#f9e990"/>
<rect x="1551.37" y="2342.24" width="62.57" height="15.07" fill="#fa9553"/>
<rect x="1613.93" y="2342.24" width="62.57" height="15.07" fill="#f5f19a"/>
<rect x="1301.10" y="2357.30" width="62.57" height="15.07" fill="#ea5e42"/>
<rect x="1363.67" y="2357.30" width="62.57" height="15.07" fill="#99e4b5"/>
<rect x="1426.23" y="2357.30" width="62.57" height="15.07" fill="#f8ee93"/>
<rect x="1488.80" y="2357.30" width="62.57" height="15.07" fill="#f6f198"/>
<rect x="1551.37" y="2357.30" width="62.57" height="15.07" fill="#fdc87a"/>
<rect x="1613.93" y="2357.30" width="62.57" height="15.07" fill="#dcf1a6"/>
<rect x="1301.10" y="2372.37" width="62.57" height="15.07" fill="#dcf1a6"/>
<rect x="1363.67" y="2372.37" width="62.57" height="15.07" fill="#dcf1a6"/>
<rect x="1426.23" y="2372.37" width="62.57" height="15.07" fill="#dcf1a6"/>
<rect x="1488.80" y="2372.37" width="62.57" height="15.07" fill="#f36b3c"/>
<rect x="1551.37" y="2372.37" width="62.57" height="15.07" fill="#fa9553"/>
<rect x="1613.93" y="2372.37" width="62.57" height="15.07" fill="#dcf1a6"/>
<rect x="1301.10" y="2387.44" width="62.57" height="15.07" fill="#f2f29f"/>
<rect x="1363.67" y="2387.44" width="62.57" height="15.07" fill="#d7f1a7"/>
<rect x="1426.23" y="2387.44" width="62.57" height="15.07" fill="#d7f1a7"/>
<rect x="1488.80" y="2387.44" width="62.57" height="15.07" fill="#eef3a4"/>
<rect x="1551.37" y="2387.44" width="62.57" height="15.07" fill="#da4648"/>
<rect x="1613.93" y="2387.44" width="62.57" height="15.07" fill="#fece7e"/>
<rect x="1301.10" y="2402.50" width="62.57" height="15.07" fill="#f1f2a1"/>
<rect x="1363.67" y="2402.50" width="62.57" height="15.07" fill="#f1f2a1"/>
<rect x="1426.23" y="2402.50" width="62.57" height="15.07" fill="#d2f0a7"/>
<rect x="1488.80" y="2402.50" width="62.57" height="15.07" fill="#eef3a4"/>
<rect x="1551.37" y="2402.50" width="62.57" height="15.07" fill="#d43c4a"/>
<rect x="1613.93" y="2402.50" width="62.57" height="15.07" fill="#fcdd8a"/>
<rect x="1301.10" y="2417.57" width="62.57" height="15.07" fill="#dcf1a6"/>
<rect x="1363.67" y="2417.57" width="62.57" height="15.07" fill="#fcdd8a"/>
<rect x="1426.23" y="2417.57" width="62.57" height="15.07" fill="#e2f2a6"/>
<rect x="1488.80" y="2417.57" width="62.57" height="15.07" fill="#f1f2a1"/>
<rect x="1551.37" y="2417.57" width="62.57" height="15.07" fill="#d74149"/>
<rect x="1613.93" y="2417.57" width="62.57" height="15.07" fill="#dcf1a6"/>
<rect x="1301.10" y="2432.63" width="62.57" height="15.07" fill="#ecf3a5"/>
<rect x="1363.67" y="2432.63" width="62.57" height="15.07" fill="#ecf3a5"/>
<rect x="1426.23" y="2432.63" width="62.57" height="15.07" fill="#ecf3a5"/>
<rect x="1488.80" y="2432.63" width="62.57" height="15.07" fill="#fcdd8a"/>
<rect x="1551.37" y="2432.63" width="62.57" height="15.07" fill="#d43c4a"/>
<rect x="1613.93" y="2432.63" width="62.57" height="15.07" fill="#ecf3a5"/>
</g>
<text transform="translate(1685.40,1707.83) scale(1.1100,1)" font-size="16.60" text-anchor="start" fill="#000" stroke="#000" stroke-width="0.35">ALCD22_L</text>
<text transform="translate(1685.40,1722.90) scale(1.1100,1)" font-size="16.60" text-anchor="start" fill="#000" stroke="#000" stroke-width="0.35">ALCD21_L</text>
<text transform="translate(1685.40,1737.97) scale(1.1100,1)" font-size="16.60" text-anchor="start" fill="#000" stroke="#000" stroke-width="0.35">r0224</text>
<text transform="translate(1685.40,1753.03) scale(1.1100,1)" font-size="16.60" text-anchor="start" fill="#000" stroke="#000" stroke-width="0.35">NADtx</text>
<text transform="translate(1685.40,1768.10) scale(1.1100,1)" font-size="16.60" text-anchor="start" fill="#000" stroke="#000" stroke-width="0.35">HMR_1557</text>
<text transform="translate(1685.40,1783.16) scale(1.1100,1)" font-size="16.60" text-anchor="start" fill="#000" stroke="#000" stroke-width="0.35">RE3198C</text>
<text transform="translate(1685.40,1798.23) scale(1.1100,1)" font-size="16.60" text-anchor="start" fill="#000" stroke="#000" stroke-width="0.35">DHPR</text>
<text transform="translate(1685.40,1813.30) scale(1.1100,1)" font-size="16.60" text-anchor="start" fill="#000" stroke="#000" stroke-width="0.35">r0392</text>
<text transform="translate(1685.40,1828.36) scale(1.1100,1)" font-size="16.60" text-anchor="start" fill="#000" stroke="#000" stroke-width="0.35">r0784</text>
<text transform="translate(1685.40,1843.43) scale(1.1100,1)" font-size="16.60" text-anchor="start" fill="#000" stroke="#000" stroke-width="0.35">r0615</text>
<text transform="translate(1685.40,1858.49) scale(1.1100,1)" font-size="16.60" text-anchor="start" fill="#000" stroke="#000" stroke-width="0.35">MTHFD2</text>
<text transform="translate(1685.40,1873.56) scale(1.1100,1)" font-size="16.60" text-anchor="start" fill="#000" stroke="#000" stroke-width="0.35">SBTD_D2</text>
<text transform="translate(1685.40,1888.62) scale(1.1100,1)" font-size="16.60" text-anchor="start" fill="#000" stroke="#000" stroke-width="0.35">GAPD</text>
<text transform="translate(1685.40,1903.69) scale(1.1100,1)" font-size="16.60" text-anchor="start" fill="#000" stroke="#000" stroke-width="0.35">ALCD22_D</text>
<text transform="translate(1685.40,1918.76) scale(1.1100,1)" font-size="16.60" text-anchor="start" fill="#000" stroke="#000" stroke-width="0.35">RE1342C</text>
<text transform="translate(1685.40,1933.82) scale(1.1100,1)" font-size="16.60" text-anchor="start" fill="#000" stroke="#000" stroke-width="0.35">NADtn</text>
<text transform="translate(1685.40,1948.89) scale(1.1100,1)" font-size="16.60" text-anchor="start" fill="#000" stroke="#000" stroke-width="0.35">r0512</text>
<text transform="translate(1685.40,1963.96) scale(1.1100,1)" font-size="16.60" text-anchor="start" fill="#000" stroke="#000" stroke-width="0.35">G3PD1</text>
<text transform="translate(1685.40,1979.02) scale(1.1100,1)" font-size="16.60" text-anchor="start" fill="#000" stroke="#000" stroke-width="0.35">LALDO</text>
<text transform="translate(1685.40,1994.09) scale(1.1100,1)" font-size="16.60" text-anchor="start" fill="#000" stroke="#000" stroke-width="0.35">r0381</text>
<text transform="translate(1685.40,2009.15) scale(1.1100,1)" font-size="16.60" text-anchor="start" fill="#000" stroke="#000" stroke-width="0.35">ALCD1</text>
<text transform="translate(1685.40,2024.22) scale(1.1100,1)" font-size="16.60" text-anchor="start" fill="#000" stroke="#000" stroke-width="0.35">NADtru</text>
<text transform="translate(1685.40,2039.29) scale(1.1100,1)" font-size="16.60" text-anchor="start" fill="#000" stroke="#000" stroke-width="0.35">ALCD21_D</text>
<text transform="translate(1685.40,2054.35) scale(1.1100,1)" font-size="16.60" text-anchor="start" fill="#000" stroke="#000" stroke-width="0.35">LDH_L</text>
<text transform="translate(1685.40,2069.42) scale(1.1100,1)" font-size="16.60" text-anchor="start" fill="#000" stroke="#000" stroke-width="0.35">3MOX4HOXPGALDOX</text>
<text transform="translate(1685.40,2084.48) scale(1.1100,1)" font-size="16.60" text-anchor="start" fill="#000" stroke="#000" stroke-width="0.35">2HIVc</text>
<text transform="translate(1685.40,2099.55) scale(1.1100,1)" font-size="16.60" text-anchor="start" fill="#000" stroke="#000" stroke-width="0.35">2H3MVc</text>
<text transform="translate(1685.40,2114.62) scale(1.1100,1)" font-size="16.60" text-anchor="start" fill="#000" stroke="#000" stroke-width="0.35">UDPGD</text>
<text transform="translate(1685.40,2129.68) scale(1.1100,1)" font-size="16.60" text-anchor="start" fill="#000" stroke="#000" stroke-width="0.35">OBDHc</text>
<text transform="translate(1685.40,2144.75) scale(1.1100,1)" font-size="16.60" text-anchor="start" fill="#000" stroke="#000" stroke-width="0.35">PGCD</text>
<text transform="translate(1685.40,2159.81) scale(1.1100,1)" font-size="16.60" text-anchor="start" fill="#000" stroke="#000" stroke-width="0.35">ALDD20x</text>
<text transform="translate(1685.40,2174.88) scale(1.1100,1)" font-size="16.60" text-anchor="start" fill="#000" stroke="#000" stroke-width="0.35">DESAT16_2</text>
<text transform="translate(1685.40,2189.95) scale(1.1100,1)" font-size="16.60" text-anchor="start" fill="#000" stroke="#000" stroke-width="0.35">r0023</text>
<text transform="translate(1685.40,2205.01) scale(1.1100,1)" font-size="16.60" text-anchor="start" fill="#000" stroke="#000" stroke-width="0.35">ALDD2x</text>
<text transform="translate(1685.40,2220.08) scale(1.1100,1)" font-size="16.60" text-anchor="start" fill="#000" stroke="#000" stroke-width="0.35">DESAT18_3</text>
<text transform="translate(1685.40,2235.14) scale(1.1100,1)" font-size="16.60" text-anchor="start" fill="#000" stroke="#000" stroke-width="0.35">NADS2</text>
<text transform="translate(1685.40,2250.21) scale(1.1100,1)" font-size="16.60" text-anchor="start" fill="#000" stroke="#000" stroke-width="0.35">IMPD</text>
<text transform="translate(1685.40,2265.28) scale(1.1100,1)" font-size="16.60" text-anchor="start" fill="#000" stroke="#000" stroke-width="0.35">MDH</text>
<text transform="translate(1685.40,2280.34) scale(1.1100,1)" font-size="16.60" text-anchor="start" fill="#000" stroke="#000" stroke-width="0.35">NADtm</text>
<text transform="translate(1685.40,2295.41) scale(1.1100,1)" font-size="16.60" text-anchor="start" fill="#000" stroke="#000" stroke-width="0.35">NMNATr</text>
<text transform="translate(1685.40,2310.47) scale(1.1100,1)" font-size="16.60" text-anchor="start" fill="#000" stroke="#000" stroke-width="0.35">r0792</text>
<text transform="translate(1685.40,2325.54) scale(1.1100,1)" font-size="16.60" text-anchor="start" fill="#000" stroke="#000" stroke-width="0.35">r0688</text>
<text transform="translate(1685.40,2340.61) scale(1.1100,1)" font-size="16.60" text-anchor="start" fill="#000" stroke="#000" stroke-width="0.35">2HBO</text>
<text transform="translate(1685.40,2355.67) scale(1.1100,1)" font-size="16.60" text-anchor="start" fill="#000" stroke="#000" stroke-width="0.35">r0021</text>
<text transform="translate(1685.40,2370.74) scale(1.1100,1)" font-size="16.60" text-anchor="start" fill="#000" stroke="#000" stroke-width="0.35">NADQNOXR</text>
<text transform="translate(1685.40,2385.80) scale(1.1100,1)" font-size="16.60" text-anchor="start" fill="#000" stroke="#000" stroke-width="0.35">34DHOXPEGOX</text>
<text transform="translate(1685.40,2400.87) scale(1.1100,1)" font-size="16.60" text-anchor="start" fill="#000" stroke="#000" stroke-width="0.35">34DHPLACOX</text>
<text transform="translate(1685.40,2415.93) scale(1.1100,1)" font-size="16.60" text-anchor="start" fill="#000" stroke="#000" stroke-width="0.35">ABUTD</text>
<text transform="translate(1685.40,2431.00) scale(1.1100,1)" font-size="16.60" text-anchor="start" fill="#000" stroke="#000" stroke-width="0.35">34DHXMANDACOX</text>
<text transform="translate(1685.40,2446.07) scale(1.1100,1)" font-size="16.60" text-anchor="start" fill="#000" stroke="#000" stroke-width="0.35">FALDH</text>
<text transform="translate(1347.38,2472.70) rotate(-45.00)" font-size="30.00" text-anchor="end" fill="#000" stroke="#000" stroke-width="0.5">CTRL1</text>
<text transform="translate(1409.95,2472.70) rotate(-45.00)" font-size="30.00" text-anchor="end" fill="#000" stroke="#000" stroke-width="0.5">CTRL2</text>
<text transform="translate(1472.52,2472.70) rotate(-45.00)" font-size="30.00" text-anchor="end" fill="#000" stroke="#000" stroke-width="0.5">CTRL3</text>
<text transform="translate(1535.08,2472.70) rotate(-45.00)" font-size="30.00" text-anchor="end" fill="#000" stroke="#000" stroke-width="0.5">IPD3</text>
<text transform="translate(1597.65,2472.70) rotate(-45.00)" font-size="30.00" text-anchor="end" fill="#000" stroke="#000" stroke-width="0.5">IPD1</text>
<text transform="translate(1660.22,2472.70) rotate(-45.00)" font-size="30.00" text-anchor="end" fill="#000" stroke="#000" stroke-width="0.5">IPD2</text>
<defs><linearGradient id="gF" x1="0" y1="0" x2="0" y2="1">
<stop offset="0.0000" stop-color="#d33a4a"/>
<stop offset="0.0098" stop-color="#d43c4a"/>
<stop offset="0.0711" stop-color="#e45546"/>
<stop offset="0.1324" stop-color="#f36b3c"/>
<stop offset="0.1936" stop-color="#f8894d"/>
<stop offset="0.2549" stop-color="#fda65d"/>
<stop offset="0.3162" stop-color="#fdbe71"/>
<stop offset="0.3775" stop-color="#fed887"/>
<stop offset="0.4387" stop-color="#fae58e"/>
<stop offset="0.5000" stop-color="#f7f094"/>
<stop offset="0.5613" stop-color="#f4f29e"/>
<stop offset="0.6225" stop-color="#ecf3a5"/>
<stop offset="0.6838" stop-color="#d2f0a7"/>
<stop offset="0.7451" stop-color="#b5eca8"/>
<stop offset="0.8064" stop-color="#9ee5b3"/>
<stop offset="0.8676" stop-color="#87debe"/>
<stop offset="0.9289" stop-color="#62acb6"/>
<stop offset="0.9902" stop-color="#4489be"/>
<stop offset="1.0000" stop-color="#4387be"/>
</linearGradient></defs>
<rect x="1898.30" y="1694.50" width="31.60" height="452.00" fill="url(#gF)"/>
<text transform="translate(1941.80,1711.23) scale(1.0300,1)" font-size="30.80" text-anchor="start" fill="#000" stroke="#000" stroke-width="0.3">2</text>
<text transform="translate(1941.80,1821.93) scale(1.0300,1)" font-size="30.80" text-anchor="start" fill="#000" stroke="#000" stroke-width="0.3">1</text>
<text transform="translate(1941.80,1932.43) scale(1.0300,1)" font-size="30.80" text-anchor="start" fill="#000" stroke="#000" stroke-width="0.3">0</text>
<text transform="translate(1941.80,2042.93) scale(1.0300,1)" font-size="30.80" text-anchor="start" fill="#000" stroke="#000" stroke-width="0.3">−1</text>
<text transform="translate(1941.80,2153.63) scale(1.0300,1)" font-size="30.80" text-anchor="start" fill="#000" stroke="#000" stroke-width="0.3">−2</text>
<text transform="translate(1898.60,1664.00) scale(1.1100,1)" font-size="27.10" text-anchor="start" fill="#000" stroke="#000" stroke-width="0.3">Flux</text>
</svg>
</body></html>
